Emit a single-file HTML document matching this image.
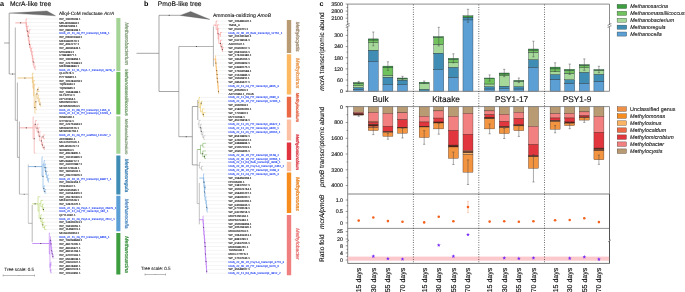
<!DOCTYPE html>
<html><head><meta charset="utf-8"><style>
html,body{margin:0;padding:0;background:#fff;width:685px;height:292px;overflow:hidden;}
svg{display:block;font-family:"Liberation Sans", sans-serif;will-change:transform;} text{text-rendering:geometricPrecision;}
</style></head><body>
<svg width="685" height="292" viewBox="0 0 685 292" font-family='"Liberation Sans", sans-serif'><defs><filter id="lb" x="-5%" y="-5%" width="110%" height="110%"><feGaussianBlur stdDeviation="0.15"/></filter></defs><text x="0.00" y="5.60" font-size="7.2" fill="#000" text-anchor="start" font-weight="bold" font-style="normal" >a</text>
<text x="10.00" y="5.50" font-size="6.68" fill="#111" text-anchor="start" font-weight="normal" font-style="normal" stroke="#111" stroke-width="0.13">McrA-like tree</text>
<line x1="4.10" y1="43.00" x2="9.20" y2="43.00" stroke="#6a6a6a" stroke-width="0.6" />
<line x1="9.20" y1="13.10" x2="9.20" y2="74.00" stroke="#6a6a6a" stroke-width="0.6" />
<line x1="9.20" y1="13.10" x2="10.50" y2="13.10" stroke="#6a6a6a" stroke-width="0.6" />
<polygon points="10.2,13.1 47,10.9 55.5,15.8" fill="#6d6d6d" stroke="#555" stroke-width="0.3"/>
<text x="59.10" y="15.30" font-size="4.73" fill="#111" text-anchor="start" font-weight="normal" font-style="normal" stroke="#111" stroke-width="0.1">Alkyl-CoM reductase <tspan font-style="italic">AcrA</tspan></text>
<line x1="9.20" y1="74.00" x2="15.30" y2="74.00" stroke="#6a6a6a" stroke-width="0.5" />
<circle cx="12.6" cy="74" r="0.5" fill="#333"/>
<line x1="15.30" y1="27.50" x2="15.30" y2="120.30" stroke="#6a6a6a" stroke-width="0.5" />
<line x1="15.30" y1="120.30" x2="17.40" y2="120.30" stroke="#6a6a6a" stroke-width="0.5" />
<line x1="17.40" y1="82.50" x2="17.40" y2="157.40" stroke="#6a6a6a" stroke-width="0.5" />
<line x1="17.40" y1="157.40" x2="19.40" y2="157.40" stroke="#6a6a6a" stroke-width="0.5" />
<line x1="19.40" y1="121.50" x2="19.40" y2="194.20" stroke="#6a6a6a" stroke-width="0.5" />
<line x1="19.40" y1="194.20" x2="28.30" y2="194.20" stroke="#888" stroke-width="0.5" />
<circle cx="24.2" cy="194.2" r="0.5" fill="#555"/>
<line x1="28.30" y1="164.40" x2="28.30" y2="223.30" stroke="#aaa" stroke-width="0.6" />
<line x1="28.30" y1="223.30" x2="32.20" y2="223.30" stroke="#888" stroke-width="0.6" />
<line x1="32.20" y1="205.00" x2="32.20" y2="242.10" stroke="#888" stroke-width="0.6" />
<line x1="26.00" y1="18.90" x2="27.45" y2="18.90" stroke="#f07a78" stroke-width="0.45" />
<line x1="26.52" y1="22.53" x2="27.27" y2="22.53" stroke="#f07a78" stroke-width="0.45" />
<line x1="27.45" y1="26.16" x2="29.04" y2="26.16" stroke="#f07a78" stroke-width="0.45" />
<line x1="29.08" y1="29.79" x2="30.71" y2="29.79" stroke="#f07a78" stroke-width="0.45" />
<line x1="29.08" y1="33.42" x2="29.63" y2="33.42" stroke="#f07a78" stroke-width="0.45" />
<line x1="29.08" y1="29.79" x2="29.08" y2="33.42" stroke="#f07a78" stroke-width="0.45" />
<line x1="28.34" y1="31.61" x2="29.08" y2="31.61" stroke="#f07a78" stroke-width="0.45" />
<line x1="28.99" y1="37.05" x2="29.66" y2="37.05" stroke="#f07a78" stroke-width="0.45" />
<line x1="29.51" y1="40.68" x2="30.36" y2="40.68" stroke="#f07a78" stroke-width="0.45" />
<line x1="30.59" y1="44.31" x2="31.30" y2="44.31" stroke="#f07a78" stroke-width="0.45" />
<line x1="31.49" y1="47.94" x2="32.73" y2="47.94" stroke="#f07a78" stroke-width="0.45" />
<line x1="32.21" y1="51.57" x2="33.34" y2="51.57" stroke="#f07a78" stroke-width="0.45" />
<line x1="32.68" y1="55.20" x2="33.24" y2="55.20" stroke="#f07a78" stroke-width="0.45" />
<line x1="33.26" y1="58.83" x2="34.55" y2="58.83" stroke="#f07a78" stroke-width="0.45" />
<line x1="34.03" y1="62.46" x2="34.89" y2="62.46" stroke="#f07a78" stroke-width="0.45" />
<line x1="34.93" y1="66.09" x2="35.95" y2="66.09" stroke="#f07a78" stroke-width="0.45" />
<line x1="34.93" y1="69.72" x2="35.77" y2="69.72" stroke="#f07a78" stroke-width="0.45" />
<line x1="34.93" y1="66.09" x2="34.93" y2="69.72" stroke="#f07a78" stroke-width="0.45" />
<line x1="34.03" y1="67.91" x2="34.93" y2="67.91" stroke="#f07a78" stroke-width="0.45" />
<line x1="34.03" y1="62.46" x2="34.03" y2="67.91" stroke="#f07a78" stroke-width="0.45" />
<line x1="33.26" y1="65.18" x2="34.03" y2="65.18" stroke="#f07a78" stroke-width="0.45" />
<line x1="33.26" y1="58.83" x2="33.26" y2="65.18" stroke="#f07a78" stroke-width="0.45" />
<line x1="32.68" y1="62.01" x2="33.26" y2="62.01" stroke="#f07a78" stroke-width="0.45" />
<rect x="32.81" y="61.56" width="0.9" height="0.9" fill="#333"/>
<line x1="32.68" y1="55.20" x2="32.68" y2="62.01" stroke="#f07a78" stroke-width="0.45" />
<line x1="32.21" y1="58.60" x2="32.68" y2="58.60" stroke="#f07a78" stroke-width="0.45" />
<line x1="32.21" y1="51.57" x2="32.21" y2="58.60" stroke="#f07a78" stroke-width="0.45" />
<line x1="31.49" y1="55.09" x2="32.21" y2="55.09" stroke="#f07a78" stroke-width="0.45" />
<line x1="31.49" y1="47.94" x2="31.49" y2="55.09" stroke="#f07a78" stroke-width="0.45" />
<line x1="30.59" y1="51.51" x2="31.49" y2="51.51" stroke="#f07a78" stroke-width="0.45" />
<line x1="30.59" y1="44.31" x2="30.59" y2="51.51" stroke="#f07a78" stroke-width="0.45" />
<line x1="29.51" y1="47.91" x2="30.59" y2="47.91" stroke="#f07a78" stroke-width="0.45" />
<line x1="29.51" y1="40.68" x2="29.51" y2="47.91" stroke="#f07a78" stroke-width="0.45" />
<line x1="28.99" y1="44.30" x2="29.51" y2="44.30" stroke="#f07a78" stroke-width="0.45" />
<rect x="29.06" y="43.85" width="0.9" height="0.9" fill="#333"/>
<line x1="28.99" y1="37.05" x2="28.99" y2="44.30" stroke="#f07a78" stroke-width="0.45" />
<line x1="28.34" y1="40.67" x2="28.99" y2="40.67" stroke="#f07a78" stroke-width="0.45" />
<line x1="28.34" y1="31.61" x2="28.34" y2="40.67" stroke="#f07a78" stroke-width="0.45" />
<line x1="27.45" y1="36.14" x2="28.34" y2="36.14" stroke="#f07a78" stroke-width="0.45" />
<rect x="27.89" y="35.69" width="0.9" height="0.9" fill="#333"/>
<line x1="27.45" y1="26.16" x2="27.45" y2="36.14" stroke="#f07a78" stroke-width="0.45" />
<line x1="26.52" y1="31.15" x2="27.45" y2="31.15" stroke="#f07a78" stroke-width="0.45" />
<rect x="27.00" y="30.70" width="0.9" height="0.9" fill="#333"/>
<line x1="26.52" y1="22.53" x2="26.52" y2="31.15" stroke="#f07a78" stroke-width="0.45" />
<line x1="26.00" y1="26.84" x2="26.52" y2="26.84" stroke="#f07a78" stroke-width="0.45" />
<line x1="26.00" y1="18.90" x2="26.00" y2="26.84" stroke="#f07a78" stroke-width="0.45" />
<line x1="15.30" y1="22.87" x2="26.00" y2="22.87" stroke="#f07a78" stroke-width="0.6" />
<circle cx="20.65" cy="22.87" r="0.55" fill="#333"/>
<line x1="32.40" y1="73.35" x2="33.98" y2="73.35" stroke="#e2a53a" stroke-width="0.45" />
<line x1="32.92" y1="76.98" x2="33.60" y2="76.98" stroke="#e2a53a" stroke-width="0.45" />
<line x1="33.63" y1="80.61" x2="35.09" y2="80.61" stroke="#e2a53a" stroke-width="0.45" />
<line x1="34.15" y1="84.24" x2="35.65" y2="84.24" stroke="#e2a53a" stroke-width="0.45" />
<line x1="37.85" y1="87.87" x2="39.33" y2="87.87" stroke="#e2a53a" stroke-width="0.45" />
<line x1="37.85" y1="91.50" x2="39.55" y2="91.50" stroke="#e2a53a" stroke-width="0.45" />
<line x1="37.85" y1="87.87" x2="37.85" y2="91.50" stroke="#e2a53a" stroke-width="0.45" />
<line x1="36.98" y1="89.69" x2="37.85" y2="89.69" stroke="#e2a53a" stroke-width="0.45" />
<rect x="37.40" y="89.23" width="0.9" height="0.9" fill="#333"/>
<line x1="38.31" y1="95.13" x2="39.32" y2="95.13" stroke="#e2a53a" stroke-width="0.45" />
<line x1="39.34" y1="98.76" x2="40.53" y2="98.76" stroke="#e2a53a" stroke-width="0.45" />
<line x1="40.00" y1="102.39" x2="40.92" y2="102.39" stroke="#e2a53a" stroke-width="0.45" />
<line x1="40.00" y1="106.02" x2="41.50" y2="106.02" stroke="#e2a53a" stroke-width="0.45" />
<line x1="40.00" y1="102.39" x2="40.00" y2="106.02" stroke="#e2a53a" stroke-width="0.45" />
<line x1="39.34" y1="104.20" x2="40.00" y2="104.20" stroke="#e2a53a" stroke-width="0.45" />
<rect x="39.55" y="103.75" width="0.9" height="0.9" fill="#333"/>
<line x1="39.34" y1="98.76" x2="39.34" y2="104.20" stroke="#e2a53a" stroke-width="0.45" />
<line x1="38.31" y1="101.48" x2="39.34" y2="101.48" stroke="#e2a53a" stroke-width="0.45" />
<line x1="38.31" y1="95.13" x2="38.31" y2="101.48" stroke="#e2a53a" stroke-width="0.45" />
<line x1="36.98" y1="98.31" x2="38.31" y2="98.31" stroke="#e2a53a" stroke-width="0.45" />
<line x1="36.98" y1="89.69" x2="36.98" y2="98.31" stroke="#e2a53a" stroke-width="0.45" />
<line x1="35.89" y1="94.00" x2="36.98" y2="94.00" stroke="#e2a53a" stroke-width="0.45" />
<rect x="36.53" y="93.55" width="0.9" height="0.9" fill="#333"/>
<line x1="35.89" y1="109.65" x2="36.97" y2="109.65" stroke="#e2a53a" stroke-width="0.45" />
<line x1="35.89" y1="94.00" x2="35.89" y2="109.65" stroke="#e2a53a" stroke-width="0.45" />
<line x1="34.90" y1="101.82" x2="35.89" y2="101.82" stroke="#e2a53a" stroke-width="0.45" />
<rect x="35.44" y="101.37" width="0.9" height="0.9" fill="#333"/>
<line x1="34.90" y1="113.28" x2="35.63" y2="113.28" stroke="#e2a53a" stroke-width="0.45" />
<line x1="34.90" y1="101.82" x2="34.90" y2="113.28" stroke="#e2a53a" stroke-width="0.45" />
<line x1="34.15" y1="107.55" x2="34.90" y2="107.55" stroke="#e2a53a" stroke-width="0.45" />
<rect x="34.45" y="107.10" width="0.9" height="0.9" fill="#333"/>
<line x1="34.15" y1="84.24" x2="34.15" y2="107.55" stroke="#e2a53a" stroke-width="0.45" />
<line x1="33.63" y1="95.90" x2="34.15" y2="95.90" stroke="#e2a53a" stroke-width="0.45" />
<line x1="33.63" y1="80.61" x2="33.63" y2="95.90" stroke="#e2a53a" stroke-width="0.45" />
<line x1="32.92" y1="88.25" x2="33.63" y2="88.25" stroke="#e2a53a" stroke-width="0.45" />
<line x1="32.92" y1="76.98" x2="32.92" y2="88.25" stroke="#e2a53a" stroke-width="0.45" />
<line x1="32.40" y1="82.62" x2="32.92" y2="82.62" stroke="#e2a53a" stroke-width="0.45" />
<line x1="32.40" y1="73.35" x2="32.40" y2="82.62" stroke="#e2a53a" stroke-width="0.45" />
<line x1="17.40" y1="77.98" x2="32.40" y2="77.98" stroke="#e2a53a" stroke-width="0.6" />
<circle cx="24.90" cy="77.98" r="0.55" fill="#333"/>
<line x1="33.10" y1="116.91" x2="33.84" y2="116.91" stroke="#f07a78" stroke-width="0.45" />
<line x1="35.30" y1="120.54" x2="37.01" y2="120.54" stroke="#f07a78" stroke-width="0.45" />
<line x1="37.08" y1="124.17" x2="39.01" y2="124.17" stroke="#f07a78" stroke-width="0.45" />
<line x1="38.33" y1="127.80" x2="40.13" y2="127.80" stroke="#f07a78" stroke-width="0.45" />
<line x1="39.77" y1="131.43" x2="40.60" y2="131.43" stroke="#f07a78" stroke-width="0.45" />
<line x1="43.07" y1="135.06" x2="45.31" y2="135.06" stroke="#f07a78" stroke-width="0.45" />
<line x1="43.07" y1="138.69" x2="45.18" y2="138.69" stroke="#f07a78" stroke-width="0.45" />
<line x1="43.07" y1="135.06" x2="43.07" y2="138.69" stroke="#f07a78" stroke-width="0.45" />
<line x1="41.49" y1="136.88" x2="43.07" y2="136.88" stroke="#f07a78" stroke-width="0.45" />
<rect x="42.62" y="136.43" width="0.9" height="0.9" fill="#333"/>
<line x1="42.60" y1="142.32" x2="43.51" y2="142.32" stroke="#f07a78" stroke-width="0.45" />
<line x1="43.99" y1="145.95" x2="44.84" y2="145.95" stroke="#f07a78" stroke-width="0.45" />
<line x1="43.99" y1="149.58" x2="44.85" y2="149.58" stroke="#f07a78" stroke-width="0.45" />
<line x1="43.99" y1="145.95" x2="43.99" y2="149.58" stroke="#f07a78" stroke-width="0.45" />
<line x1="42.60" y1="147.76" x2="43.99" y2="147.76" stroke="#f07a78" stroke-width="0.45" />
<rect x="43.54" y="147.31" width="0.9" height="0.9" fill="#333"/>
<line x1="42.60" y1="142.32" x2="42.60" y2="147.76" stroke="#f07a78" stroke-width="0.45" />
<line x1="41.49" y1="145.04" x2="42.60" y2="145.04" stroke="#f07a78" stroke-width="0.45" />
<rect x="42.15" y="144.59" width="0.9" height="0.9" fill="#333"/>
<line x1="41.49" y1="136.88" x2="41.49" y2="145.04" stroke="#f07a78" stroke-width="0.45" />
<line x1="39.77" y1="140.96" x2="41.49" y2="140.96" stroke="#f07a78" stroke-width="0.45" />
<rect x="41.04" y="140.51" width="0.9" height="0.9" fill="#333"/>
<line x1="39.77" y1="131.43" x2="39.77" y2="140.96" stroke="#f07a78" stroke-width="0.45" />
<line x1="38.33" y1="136.19" x2="39.77" y2="136.19" stroke="#f07a78" stroke-width="0.45" />
<rect x="39.32" y="135.74" width="0.9" height="0.9" fill="#333"/>
<line x1="38.33" y1="127.80" x2="38.33" y2="136.19" stroke="#f07a78" stroke-width="0.45" />
<line x1="37.08" y1="132.00" x2="38.33" y2="132.00" stroke="#f07a78" stroke-width="0.45" />
<rect x="37.88" y="131.55" width="0.9" height="0.9" fill="#333"/>
<line x1="37.08" y1="124.17" x2="37.08" y2="132.00" stroke="#f07a78" stroke-width="0.45" />
<line x1="35.30" y1="128.08" x2="37.08" y2="128.08" stroke="#f07a78" stroke-width="0.45" />
<rect x="36.63" y="127.63" width="0.9" height="0.9" fill="#333"/>
<line x1="35.30" y1="120.54" x2="35.30" y2="128.08" stroke="#f07a78" stroke-width="0.45" />
<line x1="34.23" y1="124.31" x2="35.30" y2="124.31" stroke="#f07a78" stroke-width="0.45" />
<rect x="34.85" y="123.86" width="0.9" height="0.9" fill="#333"/>
<line x1="34.23" y1="153.21" x2="35.59" y2="153.21" stroke="#f07a78" stroke-width="0.45" />
<line x1="34.23" y1="124.31" x2="34.23" y2="153.21" stroke="#f07a78" stroke-width="0.45" />
<line x1="33.10" y1="138.76" x2="34.23" y2="138.76" stroke="#f07a78" stroke-width="0.45" />
<rect x="33.78" y="138.31" width="0.9" height="0.9" fill="#333"/>
<line x1="33.10" y1="116.91" x2="33.10" y2="138.76" stroke="#f07a78" stroke-width="0.45" />
<line x1="19.40" y1="127.84" x2="33.10" y2="127.84" stroke="#f07a78" stroke-width="0.6" />
<circle cx="26.25" cy="127.84" r="0.55" fill="#333"/>
<line x1="42.00" y1="156.84" x2="42.68" y2="156.84" stroke="#4a8fd6" stroke-width="0.45" />
<line x1="44.10" y1="160.47" x2="45.17" y2="160.47" stroke="#4a8fd6" stroke-width="0.45" />
<line x1="45.10" y1="164.10" x2="46.21" y2="164.10" stroke="#4a8fd6" stroke-width="0.45" />
<line x1="45.69" y1="167.73" x2="47.32" y2="167.73" stroke="#4a8fd6" stroke-width="0.45" />
<line x1="46.42" y1="171.36" x2="47.74" y2="171.36" stroke="#4a8fd6" stroke-width="0.45" />
<line x1="47.61" y1="174.99" x2="49.01" y2="174.99" stroke="#4a8fd6" stroke-width="0.45" />
<line x1="48.28" y1="178.62" x2="49.55" y2="178.62" stroke="#4a8fd6" stroke-width="0.45" />
<line x1="48.28" y1="182.25" x2="48.90" y2="182.25" stroke="#4a8fd6" stroke-width="0.45" />
<line x1="48.28" y1="178.62" x2="48.28" y2="182.25" stroke="#4a8fd6" stroke-width="0.45" />
<line x1="47.61" y1="180.44" x2="48.28" y2="180.44" stroke="#4a8fd6" stroke-width="0.45" />
<line x1="47.61" y1="174.99" x2="47.61" y2="180.44" stroke="#4a8fd6" stroke-width="0.45" />
<line x1="46.42" y1="177.71" x2="47.61" y2="177.71" stroke="#4a8fd6" stroke-width="0.45" />
<line x1="46.42" y1="171.36" x2="46.42" y2="177.71" stroke="#4a8fd6" stroke-width="0.45" />
<line x1="45.69" y1="174.54" x2="46.42" y2="174.54" stroke="#4a8fd6" stroke-width="0.45" />
<line x1="45.69" y1="167.73" x2="45.69" y2="174.54" stroke="#4a8fd6" stroke-width="0.45" />
<line x1="45.10" y1="171.13" x2="45.69" y2="171.13" stroke="#4a8fd6" stroke-width="0.45" />
<rect x="45.24" y="170.68" width="0.9" height="0.9" fill="#333"/>
<line x1="45.10" y1="164.10" x2="45.10" y2="171.13" stroke="#4a8fd6" stroke-width="0.45" />
<line x1="44.10" y1="167.62" x2="45.10" y2="167.62" stroke="#4a8fd6" stroke-width="0.45" />
<rect x="44.65" y="167.17" width="0.9" height="0.9" fill="#333"/>
<line x1="44.10" y1="160.47" x2="44.10" y2="167.62" stroke="#4a8fd6" stroke-width="0.45" />
<line x1="43.05" y1="164.04" x2="44.10" y2="164.04" stroke="#4a8fd6" stroke-width="0.45" />
<line x1="43.90" y1="185.88" x2="45.15" y2="185.88" stroke="#4a8fd6" stroke-width="0.45" />
<line x1="44.83" y1="189.51" x2="46.27" y2="189.51" stroke="#4a8fd6" stroke-width="0.45" />
<line x1="44.83" y1="193.14" x2="46.23" y2="193.14" stroke="#4a8fd6" stroke-width="0.45" />
<line x1="44.83" y1="189.51" x2="44.83" y2="193.14" stroke="#4a8fd6" stroke-width="0.45" />
<line x1="43.90" y1="191.32" x2="44.83" y2="191.32" stroke="#4a8fd6" stroke-width="0.45" />
<rect x="44.38" y="190.88" width="0.9" height="0.9" fill="#333"/>
<line x1="43.90" y1="185.88" x2="43.90" y2="191.32" stroke="#4a8fd6" stroke-width="0.45" />
<line x1="43.05" y1="188.60" x2="43.90" y2="188.60" stroke="#4a8fd6" stroke-width="0.45" />
<rect x="43.45" y="188.15" width="0.9" height="0.9" fill="#333"/>
<line x1="43.05" y1="164.04" x2="43.05" y2="188.60" stroke="#4a8fd6" stroke-width="0.45" />
<line x1="42.00" y1="176.32" x2="43.05" y2="176.32" stroke="#4a8fd6" stroke-width="0.45" />
<rect x="42.60" y="175.87" width="0.9" height="0.9" fill="#333"/>
<line x1="42.00" y1="156.84" x2="42.00" y2="176.32" stroke="#4a8fd6" stroke-width="0.45" />
<line x1="28.30" y1="166.58" x2="42.00" y2="166.58" stroke="#4a8fd6" stroke-width="0.6" />
<circle cx="35.15" cy="166.58" r="0.55" fill="#333"/>
<line x1="38.00" y1="196.77" x2="40.33" y2="196.77" stroke="#9cc43c" stroke-width="0.45" />
<line x1="40.86" y1="200.40" x2="43.24" y2="200.40" stroke="#9cc43c" stroke-width="0.45" />
<line x1="42.61" y1="204.03" x2="43.94" y2="204.03" stroke="#9cc43c" stroke-width="0.45" />
<line x1="43.47" y1="207.66" x2="44.57" y2="207.66" stroke="#9cc43c" stroke-width="0.45" />
<line x1="43.47" y1="211.29" x2="44.52" y2="211.29" stroke="#9cc43c" stroke-width="0.45" />
<line x1="43.47" y1="207.66" x2="43.47" y2="211.29" stroke="#9cc43c" stroke-width="0.45" />
<line x1="42.61" y1="209.47" x2="43.47" y2="209.47" stroke="#9cc43c" stroke-width="0.45" />
<rect x="43.02" y="209.03" width="0.9" height="0.9" fill="#333"/>
<line x1="42.61" y1="204.03" x2="42.61" y2="209.47" stroke="#9cc43c" stroke-width="0.45" />
<line x1="40.86" y1="206.75" x2="42.61" y2="206.75" stroke="#9cc43c" stroke-width="0.45" />
<line x1="40.86" y1="200.40" x2="40.86" y2="206.75" stroke="#9cc43c" stroke-width="0.45" />
<line x1="39.14" y1="203.58" x2="40.86" y2="203.58" stroke="#9cc43c" stroke-width="0.45" />
<line x1="40.75" y1="214.92" x2="42.27" y2="214.92" stroke="#9cc43c" stroke-width="0.45" />
<line x1="42.13" y1="218.55" x2="44.19" y2="218.55" stroke="#9cc43c" stroke-width="0.45" />
<line x1="42.83" y1="222.18" x2="44.66" y2="222.18" stroke="#9cc43c" stroke-width="0.45" />
<line x1="44.52" y1="225.81" x2="46.56" y2="225.81" stroke="#9cc43c" stroke-width="0.45" />
<line x1="44.52" y1="229.44" x2="46.50" y2="229.44" stroke="#9cc43c" stroke-width="0.45" />
<line x1="44.52" y1="225.81" x2="44.52" y2="229.44" stroke="#9cc43c" stroke-width="0.45" />
<line x1="42.83" y1="227.62" x2="44.52" y2="227.62" stroke="#9cc43c" stroke-width="0.45" />
<line x1="42.83" y1="222.18" x2="42.83" y2="227.62" stroke="#9cc43c" stroke-width="0.45" />
<line x1="42.13" y1="224.90" x2="42.83" y2="224.90" stroke="#9cc43c" stroke-width="0.45" />
<rect x="42.38" y="224.45" width="0.9" height="0.9" fill="#333"/>
<line x1="42.13" y1="218.55" x2="42.13" y2="224.90" stroke="#9cc43c" stroke-width="0.45" />
<line x1="40.75" y1="221.73" x2="42.13" y2="221.73" stroke="#9cc43c" stroke-width="0.45" />
<line x1="40.75" y1="214.92" x2="40.75" y2="221.73" stroke="#9cc43c" stroke-width="0.45" />
<line x1="39.14" y1="218.32" x2="40.75" y2="218.32" stroke="#9cc43c" stroke-width="0.45" />
<rect x="40.30" y="217.87" width="0.9" height="0.9" fill="#333"/>
<line x1="39.14" y1="203.58" x2="39.14" y2="218.32" stroke="#9cc43c" stroke-width="0.45" />
<line x1="38.00" y1="210.95" x2="39.14" y2="210.95" stroke="#9cc43c" stroke-width="0.45" />
<line x1="38.00" y1="196.77" x2="38.00" y2="210.95" stroke="#9cc43c" stroke-width="0.45" />
<line x1="32.20" y1="203.86" x2="38.00" y2="203.86" stroke="#9cc43c" stroke-width="0.6" />
<circle cx="35.10" cy="203.86" r="0.55" fill="#333"/>
<line x1="49.30" y1="233.07" x2="50.08" y2="233.07" stroke="#a348f0" stroke-width="0.45" />
<line x1="50.47" y1="236.70" x2="50.95" y2="236.70" stroke="#a348f0" stroke-width="0.45" />
<line x1="50.93" y1="240.33" x2="51.28" y2="240.33" stroke="#a348f0" stroke-width="0.45" />
<line x1="51.16" y1="243.96" x2="52.02" y2="243.96" stroke="#a348f0" stroke-width="0.45" />
<line x1="51.67" y1="247.59" x2="52.26" y2="247.59" stroke="#a348f0" stroke-width="0.45" />
<line x1="52.30" y1="251.22" x2="52.83" y2="251.22" stroke="#a348f0" stroke-width="0.45" />
<line x1="52.91" y1="254.85" x2="53.68" y2="254.85" stroke="#a348f0" stroke-width="0.45" />
<line x1="52.91" y1="258.48" x2="53.30" y2="258.48" stroke="#a348f0" stroke-width="0.45" />
<line x1="52.91" y1="254.85" x2="52.91" y2="258.48" stroke="#a348f0" stroke-width="0.45" />
<line x1="52.30" y1="256.66" x2="52.91" y2="256.66" stroke="#a348f0" stroke-width="0.45" />
<rect x="52.46" y="256.21" width="0.9" height="0.9" fill="#333"/>
<line x1="52.30" y1="251.22" x2="52.30" y2="256.66" stroke="#a348f0" stroke-width="0.45" />
<line x1="51.67" y1="253.94" x2="52.30" y2="253.94" stroke="#a348f0" stroke-width="0.45" />
<rect x="51.85" y="253.49" width="0.9" height="0.9" fill="#333"/>
<line x1="51.67" y1="247.59" x2="51.67" y2="253.94" stroke="#a348f0" stroke-width="0.45" />
<line x1="51.16" y1="250.77" x2="51.67" y2="250.77" stroke="#a348f0" stroke-width="0.45" />
<rect x="51.22" y="250.32" width="0.9" height="0.9" fill="#333"/>
<line x1="51.16" y1="243.96" x2="51.16" y2="250.77" stroke="#a348f0" stroke-width="0.45" />
<line x1="50.93" y1="247.36" x2="51.16" y2="247.36" stroke="#a348f0" stroke-width="0.45" />
<line x1="50.93" y1="240.33" x2="50.93" y2="247.36" stroke="#a348f0" stroke-width="0.45" />
<line x1="50.47" y1="243.85" x2="50.93" y2="243.85" stroke="#a348f0" stroke-width="0.45" />
<rect x="50.48" y="243.40" width="0.9" height="0.9" fill="#333"/>
<line x1="50.47" y1="236.70" x2="50.47" y2="243.85" stroke="#a348f0" stroke-width="0.45" />
<line x1="49.95" y1="240.27" x2="50.47" y2="240.27" stroke="#a348f0" stroke-width="0.45" />
<rect x="50.02" y="239.82" width="0.9" height="0.9" fill="#333"/>
<line x1="50.86" y1="262.11" x2="51.34" y2="262.11" stroke="#a348f0" stroke-width="0.45" />
<line x1="50.86" y1="265.74" x2="51.41" y2="265.74" stroke="#a348f0" stroke-width="0.45" />
<line x1="50.86" y1="262.11" x2="50.86" y2="265.74" stroke="#a348f0" stroke-width="0.45" />
<line x1="50.23" y1="263.92" x2="50.86" y2="263.92" stroke="#a348f0" stroke-width="0.45" />
<line x1="50.85" y1="269.37" x2="51.38" y2="269.37" stroke="#a348f0" stroke-width="0.45" />
<line x1="50.85" y1="273.00" x2="51.69" y2="273.00" stroke="#a348f0" stroke-width="0.45" />
<line x1="50.85" y1="269.37" x2="50.85" y2="273.00" stroke="#a348f0" stroke-width="0.45" />
<line x1="50.23" y1="271.19" x2="50.85" y2="271.19" stroke="#a348f0" stroke-width="0.45" />
<line x1="50.23" y1="263.92" x2="50.23" y2="271.19" stroke="#a348f0" stroke-width="0.45" />
<line x1="49.95" y1="267.55" x2="50.23" y2="267.55" stroke="#a348f0" stroke-width="0.45" />
<line x1="49.95" y1="240.27" x2="49.95" y2="267.55" stroke="#a348f0" stroke-width="0.45" />
<line x1="49.30" y1="253.91" x2="49.95" y2="253.91" stroke="#a348f0" stroke-width="0.45" />
<line x1="49.30" y1="233.07" x2="49.30" y2="253.91" stroke="#a348f0" stroke-width="0.45" />
<line x1="32.20" y1="243.49" x2="49.30" y2="243.49" stroke="#a348f0" stroke-width="0.6" />
<circle cx="40.75" cy="243.49" r="0.55" fill="#333"/>
<line x1="27.85" y1="18.90" x2="58.50" y2="18.90" stroke="#e2e2e2" stroke-width="0.4" />
<line x1="27.67" y1="22.53" x2="58.50" y2="22.53" stroke="#e2e2e2" stroke-width="0.4" />
<line x1="29.44" y1="26.16" x2="58.50" y2="26.16" stroke="#e2e2e2" stroke-width="0.4" />
<line x1="31.11" y1="29.79" x2="58.50" y2="29.79" stroke="#e2e2e2" stroke-width="0.4" />
<line x1="30.03" y1="33.42" x2="58.50" y2="33.42" stroke="#e2e2e2" stroke-width="0.4" />
<line x1="30.06" y1="37.05" x2="58.50" y2="37.05" stroke="#e2e2e2" stroke-width="0.4" />
<line x1="30.76" y1="40.68" x2="58.50" y2="40.68" stroke="#e2e2e2" stroke-width="0.4" />
<line x1="31.70" y1="44.31" x2="58.50" y2="44.31" stroke="#e2e2e2" stroke-width="0.4" />
<line x1="33.13" y1="47.94" x2="58.50" y2="47.94" stroke="#e2e2e2" stroke-width="0.4" />
<line x1="33.74" y1="51.57" x2="58.50" y2="51.57" stroke="#e2e2e2" stroke-width="0.4" />
<line x1="33.64" y1="55.20" x2="58.50" y2="55.20" stroke="#e2e2e2" stroke-width="0.4" />
<line x1="34.95" y1="58.83" x2="58.50" y2="58.83" stroke="#e2e2e2" stroke-width="0.4" />
<line x1="35.29" y1="62.46" x2="58.50" y2="62.46" stroke="#e2e2e2" stroke-width="0.4" />
<line x1="36.35" y1="66.09" x2="58.50" y2="66.09" stroke="#e2e2e2" stroke-width="0.4" />
<line x1="36.17" y1="69.72" x2="58.50" y2="69.72" stroke="#e2e2e2" stroke-width="0.4" />
<line x1="34.38" y1="73.35" x2="58.50" y2="73.35" stroke="#e2e2e2" stroke-width="0.4" />
<line x1="34.00" y1="76.98" x2="58.50" y2="76.98" stroke="#e2e2e2" stroke-width="0.4" />
<line x1="35.49" y1="80.61" x2="58.50" y2="80.61" stroke="#e2e2e2" stroke-width="0.4" />
<line x1="36.05" y1="84.24" x2="58.50" y2="84.24" stroke="#e2e2e2" stroke-width="0.4" />
<line x1="39.73" y1="87.87" x2="58.50" y2="87.87" stroke="#e2e2e2" stroke-width="0.4" />
<line x1="39.95" y1="91.50" x2="58.50" y2="91.50" stroke="#e2e2e2" stroke-width="0.4" />
<line x1="39.72" y1="95.13" x2="58.50" y2="95.13" stroke="#e2e2e2" stroke-width="0.4" />
<line x1="40.93" y1="98.76" x2="58.50" y2="98.76" stroke="#e2e2e2" stroke-width="0.4" />
<line x1="41.32" y1="102.39" x2="58.50" y2="102.39" stroke="#e2e2e2" stroke-width="0.4" />
<line x1="41.90" y1="106.02" x2="58.50" y2="106.02" stroke="#e2e2e2" stroke-width="0.4" />
<line x1="37.37" y1="109.65" x2="58.50" y2="109.65" stroke="#e2e2e2" stroke-width="0.4" />
<line x1="36.03" y1="113.28" x2="58.50" y2="113.28" stroke="#e2e2e2" stroke-width="0.4" />
<line x1="34.24" y1="116.91" x2="58.50" y2="116.91" stroke="#e2e2e2" stroke-width="0.4" />
<line x1="37.41" y1="120.54" x2="58.50" y2="120.54" stroke="#e2e2e2" stroke-width="0.4" />
<line x1="39.41" y1="124.17" x2="58.50" y2="124.17" stroke="#e2e2e2" stroke-width="0.4" />
<line x1="40.53" y1="127.80" x2="58.50" y2="127.80" stroke="#e2e2e2" stroke-width="0.4" />
<line x1="41.00" y1="131.43" x2="58.50" y2="131.43" stroke="#e2e2e2" stroke-width="0.4" />
<line x1="45.71" y1="135.06" x2="58.50" y2="135.06" stroke="#e2e2e2" stroke-width="0.4" />
<line x1="45.58" y1="138.69" x2="58.50" y2="138.69" stroke="#e2e2e2" stroke-width="0.4" />
<line x1="43.91" y1="142.32" x2="58.50" y2="142.32" stroke="#e2e2e2" stroke-width="0.4" />
<line x1="45.24" y1="145.95" x2="58.50" y2="145.95" stroke="#e2e2e2" stroke-width="0.4" />
<line x1="45.25" y1="149.58" x2="58.50" y2="149.58" stroke="#e2e2e2" stroke-width="0.4" />
<line x1="35.99" y1="153.21" x2="58.50" y2="153.21" stroke="#e2e2e2" stroke-width="0.4" />
<line x1="43.08" y1="156.84" x2="58.50" y2="156.84" stroke="#e2e2e2" stroke-width="0.4" />
<line x1="45.57" y1="160.47" x2="58.50" y2="160.47" stroke="#e2e2e2" stroke-width="0.4" />
<line x1="46.61" y1="164.10" x2="58.50" y2="164.10" stroke="#e2e2e2" stroke-width="0.4" />
<line x1="47.72" y1="167.73" x2="58.50" y2="167.73" stroke="#e2e2e2" stroke-width="0.4" />
<line x1="48.14" y1="171.36" x2="58.50" y2="171.36" stroke="#e2e2e2" stroke-width="0.4" />
<line x1="49.41" y1="174.99" x2="58.50" y2="174.99" stroke="#e2e2e2" stroke-width="0.4" />
<line x1="49.95" y1="178.62" x2="58.50" y2="178.62" stroke="#e2e2e2" stroke-width="0.4" />
<line x1="49.30" y1="182.25" x2="58.50" y2="182.25" stroke="#e2e2e2" stroke-width="0.4" />
<line x1="45.55" y1="185.88" x2="58.50" y2="185.88" stroke="#e2e2e2" stroke-width="0.4" />
<line x1="46.67" y1="189.51" x2="58.50" y2="189.51" stroke="#e2e2e2" stroke-width="0.4" />
<line x1="46.63" y1="193.14" x2="58.50" y2="193.14" stroke="#e2e2e2" stroke-width="0.4" />
<line x1="40.73" y1="196.77" x2="58.50" y2="196.77" stroke="#e2e2e2" stroke-width="0.4" />
<line x1="43.64" y1="200.40" x2="58.50" y2="200.40" stroke="#e2e2e2" stroke-width="0.4" />
<line x1="44.34" y1="204.03" x2="58.50" y2="204.03" stroke="#e2e2e2" stroke-width="0.4" />
<line x1="44.97" y1="207.66" x2="58.50" y2="207.66" stroke="#e2e2e2" stroke-width="0.4" />
<line x1="44.92" y1="211.29" x2="58.50" y2="211.29" stroke="#e2e2e2" stroke-width="0.4" />
<line x1="42.67" y1="214.92" x2="58.50" y2="214.92" stroke="#e2e2e2" stroke-width="0.4" />
<line x1="44.59" y1="218.55" x2="58.50" y2="218.55" stroke="#e2e2e2" stroke-width="0.4" />
<line x1="45.06" y1="222.18" x2="58.50" y2="222.18" stroke="#e2e2e2" stroke-width="0.4" />
<line x1="46.96" y1="225.81" x2="58.50" y2="225.81" stroke="#e2e2e2" stroke-width="0.4" />
<line x1="46.90" y1="229.44" x2="58.50" y2="229.44" stroke="#e2e2e2" stroke-width="0.4" />
<line x1="50.48" y1="233.07" x2="58.50" y2="233.07" stroke="#e2e2e2" stroke-width="0.4" />
<line x1="51.35" y1="236.70" x2="58.50" y2="236.70" stroke="#e2e2e2" stroke-width="0.4" />
<line x1="51.68" y1="240.33" x2="58.50" y2="240.33" stroke="#e2e2e2" stroke-width="0.4" />
<line x1="52.42" y1="243.96" x2="58.50" y2="243.96" stroke="#e2e2e2" stroke-width="0.4" />
<line x1="52.66" y1="247.59" x2="58.50" y2="247.59" stroke="#e2e2e2" stroke-width="0.4" />
<line x1="53.23" y1="251.22" x2="58.50" y2="251.22" stroke="#e2e2e2" stroke-width="0.4" />
<line x1="54.08" y1="254.85" x2="58.50" y2="254.85" stroke="#e2e2e2" stroke-width="0.4" />
<line x1="53.70" y1="258.48" x2="58.50" y2="258.48" stroke="#e2e2e2" stroke-width="0.4" />
<line x1="51.74" y1="262.11" x2="58.50" y2="262.11" stroke="#e2e2e2" stroke-width="0.4" />
<line x1="51.81" y1="265.74" x2="58.50" y2="265.74" stroke="#e2e2e2" stroke-width="0.4" />
<line x1="51.78" y1="269.37" x2="58.50" y2="269.37" stroke="#e2e2e2" stroke-width="0.4" />
<line x1="52.09" y1="273.00" x2="58.50" y2="273.00" stroke="#e2e2e2" stroke-width="0.4" />
<g filter="url(#lb)">
<text x="59.2" y="19.95" font-size="2.88" fill="#111" stroke="#111" stroke-width="0.09">WP_10605508.1</text>
<text x="59.2" y="23.58" font-size="2.88" fill="#111" stroke="#111" stroke-width="0.09">MBU4034898.1</text>
<text x="59.2" y="27.21" font-size="2.88" fill="#111" stroke="#111" stroke-width="0.09">MBS879808.1</text>
<text x="59.2" y="30.84" font-size="2.88" fill="#111" stroke="#111" stroke-width="0.09">WP_08608308.1</text>
<text x="59.2" y="34.47" font-size="2.88" fill="#1a3cf0" stroke="#1a3cf0" stroke-width="0.09">RGS_22_11_24_HT_transcript_5108_1</text>
<text x="59.2" y="38.10" font-size="2.88" fill="#111" stroke="#111" stroke-width="0.09">WP_005876398.1</text>
<text x="59.2" y="41.73" font-size="2.88" fill="#111" stroke="#111" stroke-width="0.09">MXX9890570.1</text>
<text x="59.2" y="45.36" font-size="2.88" fill="#111" stroke="#111" stroke-width="0.09">WP_4032277.1</text>
<text x="59.2" y="48.99" font-size="2.88" fill="#111" stroke="#111" stroke-width="0.09">WP_48181828.1</text>
<text x="59.2" y="52.62" font-size="2.88" fill="#111" stroke="#111" stroke-width="0.09">MTR8083.1</text>
<text x="59.2" y="56.25" font-size="2.88" fill="#111" stroke="#111" stroke-width="0.09">UT8838077.1</text>
<text x="59.2" y="59.88" font-size="2.88" fill="#111" stroke="#111" stroke-width="0.09">WP_10608858.1</text>
<text x="59.2" y="63.51" font-size="2.88" fill="#111" stroke="#111" stroke-width="0.09">WP_223703483.1</text>
<text x="59.2" y="67.14" font-size="2.88" fill="#111" stroke="#111" stroke-width="0.09">MXX0884889.1</text>
<text x="59.2" y="70.77" font-size="2.88" fill="#1a3cf0" stroke="#1a3cf0" stroke-width="0.09">RGS_22_12_11_Psy1-7_transcript_3978_2</text>
<text x="59.2" y="74.40" font-size="2.88" fill="#111" stroke="#111" stroke-width="0.09">QLA7674.1</text>
<text x="59.2" y="78.03" font-size="2.88" fill="#111" stroke="#111" stroke-width="0.09">H77786801.1</text>
<text x="59.2" y="81.66" font-size="2.88" fill="#111" stroke="#111" stroke-width="0.09">WP_101283478.1</text>
<text x="59.2" y="85.29" font-size="2.88" fill="#111" stroke="#111" stroke-width="0.09">TQ093949.1</text>
<text x="59.2" y="88.92" font-size="2.88" fill="#111" stroke="#111" stroke-width="0.09">TQ096845.1</text>
<text x="59.2" y="92.55" font-size="2.88" fill="#111" stroke="#111" stroke-width="0.09">WP_10448388.1</text>
<text x="59.2" y="96.18" font-size="2.88" fill="#111" stroke="#111" stroke-width="0.09">NLT37012.1</text>
<text x="59.2" y="99.81" font-size="2.88" fill="#111" stroke="#111" stroke-width="0.09">OPY47864.1</text>
<text x="59.2" y="103.44" font-size="2.88" fill="#111" stroke="#111" stroke-width="0.09">MBI0500228.1</text>
<text x="59.2" y="107.07" font-size="2.88" fill="#111" stroke="#111" stroke-width="0.09">MDW5555053.1</text>
<text x="59.2" y="110.70" font-size="2.88" fill="#1a3cf0" stroke="#1a3cf0" stroke-width="0.09">RGS_22_11_08_HT_transcript_1956_4</text>
<text x="59.2" y="114.33" font-size="2.88" fill="#1a3cf0" stroke="#1a3cf0" stroke-width="0.09">RGS_22_12_11_HT_transcript_10209_1</text>
<text x="59.2" y="117.96" font-size="2.88" fill="#111" stroke="#111" stroke-width="0.09">WN87960.1</text>
<text x="59.2" y="121.59" font-size="2.88" fill="#111" stroke="#111" stroke-width="0.09">NTY0919.1</text>
<text x="59.2" y="125.22" font-size="2.88" fill="#111" stroke="#111" stroke-width="0.09">WP_223763443.1</text>
<text x="59.2" y="128.85" font-size="2.88" fill="#111" stroke="#111" stroke-width="0.09">MBS5870576.1</text>
<text x="59.2" y="132.48" font-size="2.88" fill="#111" stroke="#111" stroke-width="0.09">MDW235704.1</text>
<text x="59.2" y="136.11" font-size="2.88" fill="#1a3cf0" stroke="#1a3cf0" stroke-width="0.09">RGS_22_11_24_HT_scaffold_131297_1</text>
<text x="59.2" y="139.74" font-size="2.88" fill="#111" stroke="#111" stroke-width="0.09">AKK08869.1</text>
<text x="59.2" y="143.37" font-size="2.88" fill="#111" stroke="#111" stroke-width="0.09">MCC7607626.1</text>
<text x="59.2" y="147.00" font-size="2.88" fill="#111" stroke="#111" stroke-width="0.09">MBU4535797.1</text>
<text x="59.2" y="150.63" font-size="2.88" fill="#111" stroke="#111" stroke-width="0.09">SUB8059.1</text>
<text x="59.2" y="154.26" font-size="2.88" fill="#111" stroke="#111" stroke-width="0.09">WP_40928805.1</text>
<text x="59.2" y="157.89" font-size="2.88" fill="#111" stroke="#111" stroke-width="0.09">WP_102303865.1</text>
<text x="59.2" y="161.52" font-size="2.88" fill="#111" stroke="#111" stroke-width="0.09">MBV4448272.1</text>
<text x="59.2" y="165.15" font-size="2.88" fill="#111" stroke="#111" stroke-width="0.09">WP_292070887.1</text>
<text x="59.2" y="168.78" font-size="2.88" fill="#111" stroke="#111" stroke-width="0.09">MDO1723528.1</text>
<text x="59.2" y="172.41" font-size="2.88" fill="#111" stroke="#111" stroke-width="0.09">WP_18159531.1</text>
<text x="59.2" y="176.04" font-size="2.88" fill="#111" stroke="#111" stroke-width="0.09">WP_209276875.1</text>
<text x="59.2" y="179.67" font-size="2.88" fill="#1a3cf0" stroke="#1a3cf0" stroke-width="0.09">RGS_22_10_11_HT_transcript_89877_1</text>
<text x="59.2" y="183.30" font-size="2.88" fill="#111" stroke="#111" stroke-width="0.09">WP_20999318.1</text>
<text x="59.2" y="186.93" font-size="2.88" fill="#111" stroke="#111" stroke-width="0.09">PKG35997.1</text>
<text x="59.2" y="190.56" font-size="2.88" fill="#111" stroke="#111" stroke-width="0.09">MBV9309586.1</text>
<text x="59.2" y="194.19" font-size="2.88" fill="#111" stroke="#111" stroke-width="0.09">WP_292644306.1</text>
<text x="59.2" y="197.82" font-size="2.88" fill="#111" stroke="#111" stroke-width="0.09">WP_259740356.1</text>
<text x="59.2" y="201.45" font-size="2.88" fill="#111" stroke="#111" stroke-width="0.09">MBX3476528.1</text>
<text x="59.2" y="205.08" font-size="2.88" fill="#111" stroke="#111" stroke-width="0.09">WP_12826270.1</text>
<text x="59.2" y="208.71" font-size="2.88" fill="#1a3cf0" stroke="#1a3cf0" stroke-width="0.09">RGS_22_11_24_Psy1-7_transcript_25479_1</text>
<text x="59.2" y="212.34" font-size="2.88" fill="#1a3cf0" stroke="#1a3cf0" stroke-width="0.09">RGS_22_12_24_HT_transcript_140_1</text>
<text x="59.2" y="215.97" font-size="2.88" fill="#111" stroke="#111" stroke-width="0.09">QFY12987.1</text>
<text x="59.2" y="219.60" font-size="2.88" fill="#1a3cf0" stroke="#1a3cf0" stroke-width="0.09">RGS_22_11_24_Psy1-9_transcript_2512_1</text>
<text x="59.2" y="223.23" font-size="2.88" fill="#111" stroke="#111" stroke-width="0.09">WP_128906263.1</text>
<text x="59.2" y="226.86" font-size="2.88" fill="#111" stroke="#111" stroke-width="0.09">WP_14433559.1</text>
<text x="59.2" y="230.49" font-size="2.88" fill="#111" stroke="#111" stroke-width="0.09">WP_11458079.1</text>
<text x="59.2" y="234.12" font-size="2.88" fill="#111" stroke="#111" stroke-width="0.09">MDA9904004.1</text>
<text x="59.2" y="237.75" font-size="2.88" fill="#1a3cf0" stroke="#1a3cf0" stroke-width="0.09">RGS_22_11_24_HT_transcript_8856_1</text>
<text x="59.2" y="241.38" font-size="2.88" fill="#111" stroke="#111" stroke-width="0.09">WP_709098848.1</text>
<text x="59.2" y="245.01" font-size="2.88" fill="#111" stroke="#111" stroke-width="0.09">WP_48173205.1</text>
<text x="59.2" y="248.64" font-size="2.88" fill="#111" stroke="#111" stroke-width="0.09">WP_48141827.1</text>
<text x="59.2" y="252.27" font-size="2.88" fill="#111" stroke="#111" stroke-width="0.09">WP_48131268.1</text>
<text x="59.2" y="255.90" font-size="2.88" fill="#111" stroke="#111" stroke-width="0.09">WP_32207943.1</text>
<text x="59.2" y="259.53" font-size="2.88" fill="#111" stroke="#111" stroke-width="0.09">WP_95648538.1</text>
<text x="59.2" y="263.16" font-size="2.88" fill="#111" stroke="#111" stroke-width="0.09">WP_20962697.1</text>
<text x="59.2" y="266.79" font-size="2.88" fill="#111" stroke="#111" stroke-width="0.09">WP_48124840.1</text>
<text x="59.2" y="270.42" font-size="2.88" fill="#111" stroke="#111" stroke-width="0.09">WP_48667574.1</text>
<text x="59.2" y="274.05" font-size="2.88" fill="#111" stroke="#111" stroke-width="0.09">WP_10192866.1</text>
</g>
<rect x="116.30" y="18.00" width="4.10" height="53.25" fill="#a3d395" />
<rect x="116.30" y="72.00" width="4.10" height="42.50" fill="#6fbf5c" />
<rect x="116.30" y="116.25" width="4.10" height="37.50" fill="#a3d395" />
<rect x="116.30" y="155.50" width="4.10" height="39.00" fill="#3f8db5" />
<rect x="116.30" y="195.75" width="4.10" height="35.50" fill="#5b9fd4" />
<rect x="116.30" y="233.00" width="4.10" height="41.50" fill="#3d9e40" />
<text x="125.40" y="43.75" font-size="5.13" fill="#7d9a74" text-anchor="middle" font-weight="normal" font-style="italic" transform="rotate(90 125.40 43.75)" stroke="#7d9a74" stroke-width="0.2">Methanobacterium</text>
<text x="125.40" y="92.40" font-size="4.57" fill="#62945a" text-anchor="middle" font-weight="normal" font-style="italic" transform="rotate(90 125.40 92.40)" stroke="#62945a" stroke-width="0.2">Methanomassiliicoccus</text>
<text x="125.40" y="136.50" font-size="4.29" fill="#7d9a74" text-anchor="middle" font-weight="normal" font-style="italic" transform="rotate(90 125.40 136.50)" stroke="#7d9a74" stroke-width="0.2">Methanobacterium</text>
<text x="125.40" y="175.50" font-size="5.0" fill="#2f78b0" text-anchor="middle" font-weight="normal" font-style="italic" transform="rotate(90 125.40 175.50)" stroke="#2f78b0" stroke-width="0.2">Methanoregula</text>
<text x="125.40" y="213.70" font-size="5.0" fill="#4a86c0" text-anchor="middle" font-weight="normal" font-style="italic" transform="rotate(90 125.40 213.70)" stroke="#4a86c0" stroke-width="0.2">Methanocella</text>
<text x="125.40" y="254.60" font-size="5.15" fill="#2f8a34" text-anchor="middle" font-weight="normal" font-style="italic" transform="rotate(90 125.40 254.60)" stroke="#2f8a34" stroke-width="0.2">Methanosarcina</text>
<text x="4.30" y="270.60" font-size="4.5" fill="#333" text-anchor="start" font-weight="normal" font-style="normal" stroke="#333" stroke-width="0.1">Tree scale: 0.5</text>
<line x1="3.20" y1="275.50" x2="34.50" y2="275.50" stroke="#777" stroke-width="0.5" />
<line x1="3.20" y1="274.50" x2="3.20" y2="276.50" stroke="#777" stroke-width="0.5" />
<line x1="18.80" y1="275.00" x2="18.80" y2="276.00" stroke="#777" stroke-width="0.5" />
<line x1="34.50" y1="274.50" x2="34.50" y2="276.50" stroke="#777" stroke-width="0.5" />
<text x="144.00" y="5.60" font-size="7.2" fill="#000" text-anchor="start" font-weight="bold" font-style="normal" >b</text>
<text x="157.80" y="5.50" font-size="6.68" fill="#111" text-anchor="start" font-weight="normal" font-style="normal" stroke="#111" stroke-width="0.13">PmoB-like tree</text>
<line x1="136.50" y1="53.30" x2="159.00" y2="53.30" stroke="#6a6a6a" stroke-width="0.6" />
<line x1="159.00" y1="15.30" x2="159.00" y2="91.50" stroke="#6a6a6a" stroke-width="0.6" />
<line x1="159.00" y1="15.30" x2="180.20" y2="15.30" stroke="#6a6a6a" stroke-width="0.6" />
<circle cx="169.2" cy="15.3" r="0.55" fill="#333"/>
<polygon points="180,15.4 190.7,11.5 209.8,19.4" fill="#6d6d6d" stroke="#555" stroke-width="0.3"/>
<text x="212.90" y="16.60" font-size="5.08" fill="#111" text-anchor="start" font-weight="normal" font-style="normal" stroke="#111" stroke-width="0.1">Ammonia-oxidizing <tspan font-style="italic">AmoB</tspan></text>
<line x1="159.00" y1="91.50" x2="178.80" y2="91.50" stroke="#6a6a6a" stroke-width="0.6" />
<line x1="178.80" y1="46.50" x2="178.80" y2="136.70" stroke="#6a6a6a" stroke-width="0.5" />
<line x1="178.80" y1="46.50" x2="213.40" y2="46.50" stroke="#6a6a6a" stroke-width="0.5" />
<circle cx="196.5" cy="46.5" r="0.55" fill="#333"/>
<line x1="178.80" y1="136.70" x2="192.30" y2="136.70" stroke="#6a6a6a" stroke-width="0.6" />
<circle cx="186.2" cy="136.7" r="0.55" fill="#333"/>
<line x1="192.30" y1="106.50" x2="192.30" y2="164.90" stroke="#6a6a6a" stroke-width="0.6" />
<line x1="192.30" y1="106.50" x2="197.80" y2="106.50" stroke="#6a6a6a" stroke-width="0.6" />
<line x1="192.30" y1="164.90" x2="197.20" y2="164.90" stroke="#6a6a6a" stroke-width="0.6" />
<line x1="213.40" y1="26.40" x2="213.40" y2="66.60" stroke="#6a6a6a" stroke-width="0.5" />
<line x1="197.80" y1="100.00" x2="197.80" y2="120.00" stroke="#777" stroke-width="0.6" />
<line x1="197.20" y1="150.00" x2="197.20" y2="203.60" stroke="#999" stroke-width="0.6" />
<line x1="197.20" y1="203.60" x2="199.30" y2="203.60" stroke="#999" stroke-width="0.6" />
<line x1="199.30" y1="182.90" x2="199.30" y2="224.30" stroke="#999" stroke-width="0.6" />
<line x1="216.10" y1="21.00" x2="217.63" y2="21.00" stroke="#f06a6a" stroke-width="0.45" />
<line x1="217.42" y1="24.82" x2="219.41" y2="24.82" stroke="#f06a6a" stroke-width="0.45" />
<line x1="218.11" y1="28.64" x2="219.30" y2="28.64" stroke="#f06a6a" stroke-width="0.45" />
<line x1="220.32" y1="32.47" x2="222.15" y2="32.47" stroke="#f06a6a" stroke-width="0.45" />
<line x1="220.32" y1="36.29" x2="221.09" y2="36.29" stroke="#f06a6a" stroke-width="0.45" />
<line x1="220.32" y1="32.47" x2="220.32" y2="36.29" stroke="#f06a6a" stroke-width="0.45" />
<line x1="218.80" y1="34.38" x2="220.32" y2="34.38" stroke="#f06a6a" stroke-width="0.45" />
<line x1="220.50" y1="40.11" x2="222.27" y2="40.11" stroke="#f06a6a" stroke-width="0.45" />
<line x1="221.80" y1="43.93" x2="222.76" y2="43.93" stroke="#f06a6a" stroke-width="0.45" />
<line x1="222.40" y1="47.75" x2="223.96" y2="47.75" stroke="#f06a6a" stroke-width="0.45" />
<line x1="222.40" y1="51.58" x2="223.20" y2="51.58" stroke="#f06a6a" stroke-width="0.45" />
<line x1="222.40" y1="47.75" x2="222.40" y2="51.58" stroke="#f06a6a" stroke-width="0.45" />
<line x1="221.80" y1="49.67" x2="222.40" y2="49.67" stroke="#f06a6a" stroke-width="0.45" />
<rect x="221.95" y="49.22" width="0.9" height="0.9" fill="#333"/>
<line x1="221.80" y1="43.93" x2="221.80" y2="49.67" stroke="#f06a6a" stroke-width="0.45" />
<line x1="220.50" y1="46.80" x2="221.80" y2="46.80" stroke="#f06a6a" stroke-width="0.45" />
<rect x="221.35" y="46.35" width="0.9" height="0.9" fill="#333"/>
<line x1="220.50" y1="40.11" x2="220.50" y2="46.80" stroke="#f06a6a" stroke-width="0.45" />
<line x1="218.80" y1="43.45" x2="220.50" y2="43.45" stroke="#f06a6a" stroke-width="0.45" />
<rect x="220.05" y="43.00" width="0.9" height="0.9" fill="#333"/>
<line x1="218.80" y1="34.38" x2="218.80" y2="43.45" stroke="#f06a6a" stroke-width="0.45" />
<line x1="218.11" y1="38.92" x2="218.80" y2="38.92" stroke="#f06a6a" stroke-width="0.45" />
<line x1="218.11" y1="28.64" x2="218.11" y2="38.92" stroke="#f06a6a" stroke-width="0.45" />
<line x1="217.42" y1="33.78" x2="218.11" y2="33.78" stroke="#f06a6a" stroke-width="0.45" />
<rect x="217.66" y="33.33" width="0.9" height="0.9" fill="#333"/>
<line x1="217.42" y1="24.82" x2="217.42" y2="33.78" stroke="#f06a6a" stroke-width="0.45" />
<line x1="216.10" y1="29.30" x2="217.42" y2="29.30" stroke="#f06a6a" stroke-width="0.45" />
<line x1="216.10" y1="21.00" x2="216.10" y2="29.30" stroke="#f06a6a" stroke-width="0.45" />
<line x1="213.40" y1="25.15" x2="216.10" y2="25.15" stroke="#f06a6a" stroke-width="0.6" />
<line x1="215.60" y1="55.40" x2="215.87" y2="55.40" stroke="#f5a030" stroke-width="0.45" />
<line x1="215.83" y1="59.22" x2="216.04" y2="59.22" stroke="#f5a030" stroke-width="0.45" />
<line x1="216.21" y1="63.04" x2="216.55" y2="63.04" stroke="#f5a030" stroke-width="0.45" />
<line x1="216.61" y1="66.86" x2="216.94" y2="66.86" stroke="#f5a030" stroke-width="0.45" />
<line x1="217.04" y1="70.69" x2="217.56" y2="70.69" stroke="#f5a030" stroke-width="0.45" />
<line x1="217.18" y1="74.51" x2="217.45" y2="74.51" stroke="#f5a030" stroke-width="0.45" />
<line x1="217.60" y1="78.33" x2="217.97" y2="78.33" stroke="#f5a030" stroke-width="0.45" />
<line x1="218.04" y1="82.15" x2="218.38" y2="82.15" stroke="#f5a030" stroke-width="0.45" />
<line x1="218.21" y1="85.97" x2="218.65" y2="85.97" stroke="#f5a030" stroke-width="0.45" />
<line x1="218.59" y1="89.80" x2="218.88" y2="89.80" stroke="#f5a030" stroke-width="0.45" />
<line x1="218.59" y1="93.62" x2="218.80" y2="93.62" stroke="#f5a030" stroke-width="0.45" />
<line x1="218.59" y1="89.80" x2="218.59" y2="93.62" stroke="#f5a030" stroke-width="0.45" />
<line x1="218.21" y1="91.71" x2="218.59" y2="91.71" stroke="#f5a030" stroke-width="0.45" />
<rect x="218.14" y="91.26" width="0.9" height="0.9" fill="#333"/>
<line x1="218.21" y1="85.97" x2="218.21" y2="91.71" stroke="#f5a030" stroke-width="0.45" />
<line x1="218.04" y1="88.84" x2="218.21" y2="88.84" stroke="#f5a030" stroke-width="0.45" />
<line x1="218.04" y1="82.15" x2="218.04" y2="88.84" stroke="#f5a030" stroke-width="0.45" />
<line x1="217.60" y1="85.50" x2="218.04" y2="85.50" stroke="#f5a030" stroke-width="0.45" />
<line x1="217.60" y1="78.33" x2="217.60" y2="85.50" stroke="#f5a030" stroke-width="0.45" />
<line x1="217.18" y1="81.91" x2="217.60" y2="81.91" stroke="#f5a030" stroke-width="0.45" />
<rect x="217.15" y="81.46" width="0.9" height="0.9" fill="#333"/>
<line x1="217.18" y1="74.51" x2="217.18" y2="81.91" stroke="#f5a030" stroke-width="0.45" />
<line x1="217.04" y1="78.21" x2="217.18" y2="78.21" stroke="#f5a030" stroke-width="0.45" />
<rect x="216.73" y="77.76" width="0.9" height="0.9" fill="#333"/>
<line x1="217.04" y1="70.69" x2="217.04" y2="78.21" stroke="#f5a030" stroke-width="0.45" />
<line x1="216.61" y1="74.45" x2="217.04" y2="74.45" stroke="#f5a030" stroke-width="0.45" />
<rect x="216.59" y="74.00" width="0.9" height="0.9" fill="#333"/>
<line x1="216.61" y1="66.86" x2="216.61" y2="74.45" stroke="#f5a030" stroke-width="0.45" />
<line x1="216.21" y1="70.66" x2="216.61" y2="70.66" stroke="#f5a030" stroke-width="0.45" />
<rect x="216.16" y="70.21" width="0.9" height="0.9" fill="#333"/>
<line x1="216.21" y1="63.04" x2="216.21" y2="70.66" stroke="#f5a030" stroke-width="0.45" />
<line x1="215.83" y1="66.85" x2="216.21" y2="66.85" stroke="#f5a030" stroke-width="0.45" />
<line x1="215.83" y1="59.22" x2="215.83" y2="66.85" stroke="#f5a030" stroke-width="0.45" />
<line x1="215.60" y1="63.03" x2="215.83" y2="63.03" stroke="#f5a030" stroke-width="0.45" />
<rect x="215.38" y="62.58" width="0.9" height="0.9" fill="#333"/>
<line x1="215.60" y1="55.40" x2="215.60" y2="63.03" stroke="#f5a030" stroke-width="0.45" />
<line x1="213.40" y1="59.22" x2="215.60" y2="59.22" stroke="#f5a030" stroke-width="0.6" />
<line x1="199.00" y1="97.44" x2="200.00" y2="97.44" stroke="#e0b020" stroke-width="0.45" />
<line x1="201.24" y1="101.26" x2="202.75" y2="101.26" stroke="#e0b020" stroke-width="0.45" />
<line x1="201.24" y1="105.08" x2="202.38" y2="105.08" stroke="#e0b020" stroke-width="0.45" />
<line x1="201.24" y1="101.26" x2="201.24" y2="105.08" stroke="#e0b020" stroke-width="0.45" />
<line x1="200.46" y1="103.17" x2="201.24" y2="103.17" stroke="#e0b020" stroke-width="0.45" />
<rect x="200.79" y="102.72" width="0.9" height="0.9" fill="#333"/>
<line x1="202.33" y1="108.91" x2="204.52" y2="108.91" stroke="#e0b020" stroke-width="0.45" />
<line x1="203.35" y1="112.73" x2="205.69" y2="112.73" stroke="#e0b020" stroke-width="0.45" />
<line x1="203.35" y1="116.55" x2="204.49" y2="116.55" stroke="#e0b020" stroke-width="0.45" />
<line x1="203.35" y1="112.73" x2="203.35" y2="116.55" stroke="#e0b020" stroke-width="0.45" />
<line x1="202.33" y1="114.64" x2="203.35" y2="114.64" stroke="#e0b020" stroke-width="0.45" />
<rect x="202.90" y="114.19" width="0.9" height="0.9" fill="#333"/>
<line x1="202.33" y1="108.91" x2="202.33" y2="114.64" stroke="#e0b020" stroke-width="0.45" />
<line x1="200.46" y1="111.77" x2="202.33" y2="111.77" stroke="#e0b020" stroke-width="0.45" />
<line x1="200.46" y1="103.17" x2="200.46" y2="111.77" stroke="#e0b020" stroke-width="0.45" />
<line x1="199.00" y1="107.47" x2="200.46" y2="107.47" stroke="#e0b020" stroke-width="0.45" />
<line x1="199.00" y1="97.44" x2="199.00" y2="107.47" stroke="#e0b020" stroke-width="0.45" />
<line x1="197.80" y1="102.46" x2="199.00" y2="102.46" stroke="#e0b020" stroke-width="0.6" />
<line x1="199.00" y1="120.37" x2="200.79" y2="120.37" stroke="#9a9a9a" stroke-width="0.45" />
<line x1="200.64" y1="124.19" x2="202.04" y2="124.19" stroke="#9a9a9a" stroke-width="0.45" />
<line x1="201.34" y1="128.02" x2="202.44" y2="128.02" stroke="#9a9a9a" stroke-width="0.45" />
<line x1="202.74" y1="131.84" x2="203.51" y2="131.84" stroke="#9a9a9a" stroke-width="0.45" />
<line x1="203.81" y1="135.66" x2="205.62" y2="135.66" stroke="#9a9a9a" stroke-width="0.45" />
<line x1="203.81" y1="139.48" x2="204.77" y2="139.48" stroke="#9a9a9a" stroke-width="0.45" />
<line x1="203.81" y1="135.66" x2="203.81" y2="139.48" stroke="#9a9a9a" stroke-width="0.45" />
<line x1="202.74" y1="137.57" x2="203.81" y2="137.57" stroke="#9a9a9a" stroke-width="0.45" />
<line x1="202.74" y1="131.84" x2="202.74" y2="137.57" stroke="#9a9a9a" stroke-width="0.45" />
<line x1="201.34" y1="134.70" x2="202.74" y2="134.70" stroke="#9a9a9a" stroke-width="0.45" />
<line x1="201.34" y1="128.02" x2="201.34" y2="134.70" stroke="#9a9a9a" stroke-width="0.45" />
<line x1="200.64" y1="131.36" x2="201.34" y2="131.36" stroke="#9a9a9a" stroke-width="0.45" />
<rect x="200.89" y="130.91" width="0.9" height="0.9" fill="#333"/>
<line x1="200.64" y1="124.19" x2="200.64" y2="131.36" stroke="#9a9a9a" stroke-width="0.45" />
<line x1="199.00" y1="127.78" x2="200.64" y2="127.78" stroke="#9a9a9a" stroke-width="0.45" />
<rect x="200.19" y="127.33" width="0.9" height="0.9" fill="#333"/>
<line x1="199.00" y1="120.37" x2="199.00" y2="127.78" stroke="#9a9a9a" stroke-width="0.45" />
<line x1="197.80" y1="124.07" x2="199.00" y2="124.07" stroke="#9a9a9a" stroke-width="0.6" />
<line x1="202.84" y1="143.30" x2="206.25" y2="143.30" stroke="#5a9a3a" stroke-width="0.45" />
<line x1="202.84" y1="147.13" x2="204.58" y2="147.13" stroke="#5a9a3a" stroke-width="0.45" />
<line x1="202.84" y1="143.30" x2="202.84" y2="147.13" stroke="#5a9a3a" stroke-width="0.45" />
<line x1="200.50" y1="145.22" x2="202.84" y2="145.22" stroke="#5a9a3a" stroke-width="0.45" />
<line x1="202.72" y1="150.95" x2="206.02" y2="150.95" stroke="#5a9a3a" stroke-width="0.45" />
<line x1="204.60" y1="154.77" x2="207.29" y2="154.77" stroke="#5a9a3a" stroke-width="0.45" />
<line x1="204.60" y1="158.59" x2="206.10" y2="158.59" stroke="#5a9a3a" stroke-width="0.45" />
<line x1="204.60" y1="154.77" x2="204.60" y2="158.59" stroke="#5a9a3a" stroke-width="0.45" />
<line x1="202.72" y1="156.68" x2="204.60" y2="156.68" stroke="#5a9a3a" stroke-width="0.45" />
<rect x="204.15" y="156.23" width="0.9" height="0.9" fill="#333"/>
<line x1="202.72" y1="150.95" x2="202.72" y2="156.68" stroke="#5a9a3a" stroke-width="0.45" />
<line x1="200.50" y1="153.81" x2="202.72" y2="153.81" stroke="#5a9a3a" stroke-width="0.45" />
<rect x="202.27" y="153.36" width="0.9" height="0.9" fill="#333"/>
<line x1="200.50" y1="145.22" x2="200.50" y2="153.81" stroke="#5a9a3a" stroke-width="0.45" />
<line x1="197.20" y1="149.51" x2="200.50" y2="149.51" stroke="#5a9a3a" stroke-width="0.6" />
<line x1="199.50" y1="162.41" x2="201.00" y2="162.41" stroke="#9a9a9a" stroke-width="0.45" />
<line x1="201.45" y1="166.24" x2="203.25" y2="166.24" stroke="#9a9a9a" stroke-width="0.45" />
<line x1="201.45" y1="170.06" x2="203.32" y2="170.06" stroke="#9a9a9a" stroke-width="0.45" />
<line x1="201.45" y1="166.24" x2="201.45" y2="170.06" stroke="#9a9a9a" stroke-width="0.45" />
<line x1="199.50" y1="168.15" x2="201.45" y2="168.15" stroke="#9a9a9a" stroke-width="0.45" />
<line x1="199.50" y1="162.41" x2="199.50" y2="168.15" stroke="#9a9a9a" stroke-width="0.45" />
<line x1="197.20" y1="165.28" x2="199.50" y2="165.28" stroke="#9a9a9a" stroke-width="0.6" />
<line x1="203.50" y1="173.88" x2="204.49" y2="173.88" stroke="#5a9ad8" stroke-width="0.45" />
<line x1="203.87" y1="177.70" x2="204.20" y2="177.70" stroke="#5a9ad8" stroke-width="0.45" />
<line x1="204.27" y1="181.52" x2="204.91" y2="181.52" stroke="#5a9ad8" stroke-width="0.45" />
<line x1="204.92" y1="185.35" x2="205.50" y2="185.35" stroke="#5a9ad8" stroke-width="0.45" />
<line x1="204.92" y1="189.17" x2="205.65" y2="189.17" stroke="#5a9ad8" stroke-width="0.45" />
<line x1="204.92" y1="185.35" x2="204.92" y2="189.17" stroke="#5a9ad8" stroke-width="0.45" />
<line x1="204.57" y1="187.26" x2="204.92" y2="187.26" stroke="#5a9ad8" stroke-width="0.45" />
<rect x="204.47" y="186.81" width="0.9" height="0.9" fill="#333"/>
<line x1="205.02" y1="192.99" x2="205.98" y2="192.99" stroke="#5a9ad8" stroke-width="0.45" />
<line x1="205.79" y1="196.81" x2="206.59" y2="196.81" stroke="#5a9ad8" stroke-width="0.45" />
<line x1="206.42" y1="200.63" x2="207.16" y2="200.63" stroke="#5a9ad8" stroke-width="0.45" />
<line x1="206.75" y1="204.46" x2="207.09" y2="204.46" stroke="#5a9ad8" stroke-width="0.45" />
<line x1="207.02" y1="208.28" x2="208.00" y2="208.28" stroke="#5a9ad8" stroke-width="0.45" />
<line x1="207.02" y1="212.10" x2="207.85" y2="212.10" stroke="#5a9ad8" stroke-width="0.45" />
<line x1="207.02" y1="208.28" x2="207.02" y2="212.10" stroke="#5a9ad8" stroke-width="0.45" />
<line x1="206.75" y1="210.19" x2="207.02" y2="210.19" stroke="#5a9ad8" stroke-width="0.45" />
<line x1="206.75" y1="204.46" x2="206.75" y2="210.19" stroke="#5a9ad8" stroke-width="0.45" />
<line x1="206.42" y1="207.32" x2="206.75" y2="207.32" stroke="#5a9ad8" stroke-width="0.45" />
<rect x="206.30" y="206.87" width="0.9" height="0.9" fill="#333"/>
<line x1="206.42" y1="200.63" x2="206.42" y2="207.32" stroke="#5a9ad8" stroke-width="0.45" />
<line x1="205.79" y1="203.98" x2="206.42" y2="203.98" stroke="#5a9ad8" stroke-width="0.45" />
<line x1="205.79" y1="196.81" x2="205.79" y2="203.98" stroke="#5a9ad8" stroke-width="0.45" />
<line x1="205.02" y1="200.40" x2="205.79" y2="200.40" stroke="#5a9ad8" stroke-width="0.45" />
<line x1="205.02" y1="192.99" x2="205.02" y2="200.40" stroke="#5a9ad8" stroke-width="0.45" />
<line x1="204.57" y1="196.69" x2="205.02" y2="196.69" stroke="#5a9ad8" stroke-width="0.45" />
<line x1="204.57" y1="187.26" x2="204.57" y2="196.69" stroke="#5a9ad8" stroke-width="0.45" />
<line x1="204.27" y1="191.97" x2="204.57" y2="191.97" stroke="#5a9ad8" stroke-width="0.45" />
<rect x="204.12" y="191.52" width="0.9" height="0.9" fill="#333"/>
<line x1="204.27" y1="181.52" x2="204.27" y2="191.97" stroke="#5a9ad8" stroke-width="0.45" />
<line x1="203.87" y1="186.75" x2="204.27" y2="186.75" stroke="#5a9ad8" stroke-width="0.45" />
<line x1="203.87" y1="177.70" x2="203.87" y2="186.75" stroke="#5a9ad8" stroke-width="0.45" />
<line x1="203.50" y1="182.23" x2="203.87" y2="182.23" stroke="#5a9ad8" stroke-width="0.45" />
<rect x="203.42" y="181.78" width="0.9" height="0.9" fill="#333"/>
<line x1="203.50" y1="173.88" x2="203.50" y2="182.23" stroke="#5a9ad8" stroke-width="0.45" />
<line x1="199.30" y1="178.05" x2="203.50" y2="178.05" stroke="#5a9ad8" stroke-width="0.6" />
<line x1="203.00" y1="215.92" x2="203.38" y2="215.92" stroke="#a348f0" stroke-width="0.45" />
<line x1="203.31" y1="219.74" x2="203.62" y2="219.74" stroke="#a348f0" stroke-width="0.45" />
<line x1="203.60" y1="223.57" x2="204.00" y2="223.57" stroke="#a348f0" stroke-width="0.45" />
<line x1="203.76" y1="227.39" x2="204.17" y2="227.39" stroke="#a348f0" stroke-width="0.45" />
<line x1="204.17" y1="231.21" x2="204.67" y2="231.21" stroke="#a348f0" stroke-width="0.45" />
<line x1="204.50" y1="235.03" x2="204.81" y2="235.03" stroke="#a348f0" stroke-width="0.45" />
<line x1="204.84" y1="238.85" x2="205.22" y2="238.85" stroke="#a348f0" stroke-width="0.45" />
<line x1="205.10" y1="242.68" x2="205.58" y2="242.68" stroke="#a348f0" stroke-width="0.45" />
<line x1="205.26" y1="246.50" x2="205.71" y2="246.50" stroke="#a348f0" stroke-width="0.45" />
<line x1="205.40" y1="250.32" x2="205.79" y2="250.32" stroke="#a348f0" stroke-width="0.45" />
<line x1="205.67" y1="254.14" x2="205.92" y2="254.14" stroke="#a348f0" stroke-width="0.45" />
<line x1="205.99" y1="257.96" x2="206.35" y2="257.96" stroke="#a348f0" stroke-width="0.45" />
<line x1="206.30" y1="261.79" x2="206.81" y2="261.79" stroke="#a348f0" stroke-width="0.45" />
<line x1="206.50" y1="265.61" x2="206.67" y2="265.61" stroke="#a348f0" stroke-width="0.45" />
<line x1="206.72" y1="269.43" x2="207.15" y2="269.43" stroke="#a348f0" stroke-width="0.45" />
<line x1="206.72" y1="273.25" x2="206.96" y2="273.25" stroke="#a348f0" stroke-width="0.45" />
<line x1="206.72" y1="269.43" x2="206.72" y2="273.25" stroke="#a348f0" stroke-width="0.45" />
<line x1="206.50" y1="271.34" x2="206.72" y2="271.34" stroke="#a348f0" stroke-width="0.45" />
<rect x="206.27" y="270.89" width="0.9" height="0.9" fill="#333"/>
<line x1="206.50" y1="265.61" x2="206.50" y2="271.34" stroke="#a348f0" stroke-width="0.45" />
<line x1="206.30" y1="268.47" x2="206.50" y2="268.47" stroke="#a348f0" stroke-width="0.45" />
<line x1="206.30" y1="261.79" x2="206.30" y2="268.47" stroke="#a348f0" stroke-width="0.45" />
<line x1="205.99" y1="265.13" x2="206.30" y2="265.13" stroke="#a348f0" stroke-width="0.45" />
<line x1="205.99" y1="257.96" x2="205.99" y2="265.13" stroke="#a348f0" stroke-width="0.45" />
<line x1="205.67" y1="261.55" x2="205.99" y2="261.55" stroke="#a348f0" stroke-width="0.45" />
<rect x="205.54" y="261.10" width="0.9" height="0.9" fill="#333"/>
<line x1="205.67" y1="254.14" x2="205.67" y2="261.55" stroke="#a348f0" stroke-width="0.45" />
<line x1="205.40" y1="257.84" x2="205.67" y2="257.84" stroke="#a348f0" stroke-width="0.45" />
<line x1="205.40" y1="250.32" x2="205.40" y2="257.84" stroke="#a348f0" stroke-width="0.45" />
<line x1="205.26" y1="254.08" x2="205.40" y2="254.08" stroke="#a348f0" stroke-width="0.45" />
<rect x="204.95" y="253.63" width="0.9" height="0.9" fill="#333"/>
<line x1="205.26" y1="246.50" x2="205.26" y2="254.08" stroke="#a348f0" stroke-width="0.45" />
<line x1="205.10" y1="250.29" x2="205.26" y2="250.29" stroke="#a348f0" stroke-width="0.45" />
<line x1="205.10" y1="242.68" x2="205.10" y2="250.29" stroke="#a348f0" stroke-width="0.45" />
<line x1="204.84" y1="246.48" x2="205.10" y2="246.48" stroke="#a348f0" stroke-width="0.45" />
<rect x="204.65" y="246.03" width="0.9" height="0.9" fill="#333"/>
<line x1="204.84" y1="238.85" x2="204.84" y2="246.48" stroke="#a348f0" stroke-width="0.45" />
<line x1="204.50" y1="242.67" x2="204.84" y2="242.67" stroke="#a348f0" stroke-width="0.45" />
<rect x="204.39" y="242.22" width="0.9" height="0.9" fill="#333"/>
<line x1="204.50" y1="235.03" x2="204.50" y2="242.67" stroke="#a348f0" stroke-width="0.45" />
<line x1="204.17" y1="238.85" x2="204.50" y2="238.85" stroke="#a348f0" stroke-width="0.45" />
<line x1="204.17" y1="231.21" x2="204.17" y2="238.85" stroke="#a348f0" stroke-width="0.45" />
<line x1="203.76" y1="235.03" x2="204.17" y2="235.03" stroke="#a348f0" stroke-width="0.45" />
<line x1="203.76" y1="227.39" x2="203.76" y2="235.03" stroke="#a348f0" stroke-width="0.45" />
<line x1="203.60" y1="231.21" x2="203.76" y2="231.21" stroke="#a348f0" stroke-width="0.45" />
<line x1="203.60" y1="223.57" x2="203.60" y2="231.21" stroke="#a348f0" stroke-width="0.45" />
<line x1="203.31" y1="227.39" x2="203.60" y2="227.39" stroke="#a348f0" stroke-width="0.45" />
<rect x="203.15" y="226.94" width="0.9" height="0.9" fill="#333"/>
<line x1="203.31" y1="219.74" x2="203.31" y2="227.39" stroke="#a348f0" stroke-width="0.45" />
<line x1="203.00" y1="223.57" x2="203.31" y2="223.57" stroke="#a348f0" stroke-width="0.45" />
<line x1="203.00" y1="215.92" x2="203.00" y2="223.57" stroke="#a348f0" stroke-width="0.45" />
<line x1="199.30" y1="219.74" x2="203.00" y2="219.74" stroke="#a348f0" stroke-width="0.6" />
<line x1="218.03" y1="21.00" x2="227.80" y2="21.00" stroke="#e2e2e2" stroke-width="0.4" />
<line x1="219.81" y1="24.82" x2="227.80" y2="24.82" stroke="#e2e2e2" stroke-width="0.4" />
<line x1="219.70" y1="28.64" x2="227.80" y2="28.64" stroke="#e2e2e2" stroke-width="0.4" />
<line x1="222.55" y1="32.47" x2="227.80" y2="32.47" stroke="#e2e2e2" stroke-width="0.4" />
<line x1="221.49" y1="36.29" x2="227.80" y2="36.29" stroke="#e2e2e2" stroke-width="0.4" />
<line x1="222.67" y1="40.11" x2="227.80" y2="40.11" stroke="#e2e2e2" stroke-width="0.4" />
<line x1="223.16" y1="43.93" x2="227.80" y2="43.93" stroke="#e2e2e2" stroke-width="0.4" />
<line x1="224.36" y1="47.75" x2="227.80" y2="47.75" stroke="#e2e2e2" stroke-width="0.4" />
<line x1="223.60" y1="51.58" x2="227.80" y2="51.58" stroke="#e2e2e2" stroke-width="0.4" />
<line x1="216.27" y1="55.40" x2="227.80" y2="55.40" stroke="#e2e2e2" stroke-width="0.4" />
<line x1="216.44" y1="59.22" x2="227.80" y2="59.22" stroke="#e2e2e2" stroke-width="0.4" />
<line x1="216.95" y1="63.04" x2="227.80" y2="63.04" stroke="#e2e2e2" stroke-width="0.4" />
<line x1="217.34" y1="66.86" x2="227.80" y2="66.86" stroke="#e2e2e2" stroke-width="0.4" />
<line x1="217.96" y1="70.69" x2="227.80" y2="70.69" stroke="#e2e2e2" stroke-width="0.4" />
<line x1="217.85" y1="74.51" x2="227.80" y2="74.51" stroke="#e2e2e2" stroke-width="0.4" />
<line x1="218.37" y1="78.33" x2="227.80" y2="78.33" stroke="#e2e2e2" stroke-width="0.4" />
<line x1="218.78" y1="82.15" x2="227.80" y2="82.15" stroke="#e2e2e2" stroke-width="0.4" />
<line x1="219.05" y1="85.97" x2="227.80" y2="85.97" stroke="#e2e2e2" stroke-width="0.4" />
<line x1="219.28" y1="89.80" x2="227.80" y2="89.80" stroke="#e2e2e2" stroke-width="0.4" />
<line x1="219.20" y1="93.62" x2="227.80" y2="93.62" stroke="#e2e2e2" stroke-width="0.4" />
<line x1="200.40" y1="97.44" x2="227.80" y2="97.44" stroke="#e2e2e2" stroke-width="0.4" />
<line x1="203.15" y1="101.26" x2="227.80" y2="101.26" stroke="#e2e2e2" stroke-width="0.4" />
<line x1="202.78" y1="105.08" x2="227.80" y2="105.08" stroke="#e2e2e2" stroke-width="0.4" />
<line x1="204.92" y1="108.91" x2="227.80" y2="108.91" stroke="#e2e2e2" stroke-width="0.4" />
<line x1="206.09" y1="112.73" x2="227.80" y2="112.73" stroke="#e2e2e2" stroke-width="0.4" />
<line x1="204.89" y1="116.55" x2="227.80" y2="116.55" stroke="#e2e2e2" stroke-width="0.4" />
<line x1="201.19" y1="120.37" x2="227.80" y2="120.37" stroke="#e2e2e2" stroke-width="0.4" />
<line x1="202.44" y1="124.19" x2="227.80" y2="124.19" stroke="#e2e2e2" stroke-width="0.4" />
<line x1="202.84" y1="128.02" x2="227.80" y2="128.02" stroke="#e2e2e2" stroke-width="0.4" />
<line x1="203.91" y1="131.84" x2="227.80" y2="131.84" stroke="#e2e2e2" stroke-width="0.4" />
<line x1="206.02" y1="135.66" x2="227.80" y2="135.66" stroke="#e2e2e2" stroke-width="0.4" />
<line x1="205.17" y1="139.48" x2="227.80" y2="139.48" stroke="#e2e2e2" stroke-width="0.4" />
<line x1="206.65" y1="143.30" x2="227.80" y2="143.30" stroke="#e2e2e2" stroke-width="0.4" />
<line x1="204.98" y1="147.13" x2="227.80" y2="147.13" stroke="#e2e2e2" stroke-width="0.4" />
<line x1="206.42" y1="150.95" x2="227.80" y2="150.95" stroke="#e2e2e2" stroke-width="0.4" />
<line x1="207.69" y1="154.77" x2="227.80" y2="154.77" stroke="#e2e2e2" stroke-width="0.4" />
<line x1="206.50" y1="158.59" x2="227.80" y2="158.59" stroke="#e2e2e2" stroke-width="0.4" />
<line x1="201.40" y1="162.41" x2="227.80" y2="162.41" stroke="#e2e2e2" stroke-width="0.4" />
<line x1="203.65" y1="166.24" x2="227.80" y2="166.24" stroke="#e2e2e2" stroke-width="0.4" />
<line x1="203.72" y1="170.06" x2="227.80" y2="170.06" stroke="#e2e2e2" stroke-width="0.4" />
<line x1="204.89" y1="173.88" x2="227.80" y2="173.88" stroke="#e2e2e2" stroke-width="0.4" />
<line x1="204.60" y1="177.70" x2="227.80" y2="177.70" stroke="#e2e2e2" stroke-width="0.4" />
<line x1="205.31" y1="181.52" x2="227.80" y2="181.52" stroke="#e2e2e2" stroke-width="0.4" />
<line x1="205.90" y1="185.35" x2="227.80" y2="185.35" stroke="#e2e2e2" stroke-width="0.4" />
<line x1="206.05" y1="189.17" x2="227.80" y2="189.17" stroke="#e2e2e2" stroke-width="0.4" />
<line x1="206.38" y1="192.99" x2="227.80" y2="192.99" stroke="#e2e2e2" stroke-width="0.4" />
<line x1="206.99" y1="196.81" x2="227.80" y2="196.81" stroke="#e2e2e2" stroke-width="0.4" />
<line x1="207.56" y1="200.63" x2="227.80" y2="200.63" stroke="#e2e2e2" stroke-width="0.4" />
<line x1="207.49" y1="204.46" x2="227.80" y2="204.46" stroke="#e2e2e2" stroke-width="0.4" />
<line x1="208.40" y1="208.28" x2="227.80" y2="208.28" stroke="#e2e2e2" stroke-width="0.4" />
<line x1="208.25" y1="212.10" x2="227.80" y2="212.10" stroke="#e2e2e2" stroke-width="0.4" />
<line x1="203.78" y1="215.92" x2="227.80" y2="215.92" stroke="#e2e2e2" stroke-width="0.4" />
<line x1="204.02" y1="219.74" x2="227.80" y2="219.74" stroke="#e2e2e2" stroke-width="0.4" />
<line x1="204.40" y1="223.57" x2="227.80" y2="223.57" stroke="#e2e2e2" stroke-width="0.4" />
<line x1="204.57" y1="227.39" x2="227.80" y2="227.39" stroke="#e2e2e2" stroke-width="0.4" />
<line x1="205.07" y1="231.21" x2="227.80" y2="231.21" stroke="#e2e2e2" stroke-width="0.4" />
<line x1="205.21" y1="235.03" x2="227.80" y2="235.03" stroke="#e2e2e2" stroke-width="0.4" />
<line x1="205.62" y1="238.85" x2="227.80" y2="238.85" stroke="#e2e2e2" stroke-width="0.4" />
<line x1="205.98" y1="242.68" x2="227.80" y2="242.68" stroke="#e2e2e2" stroke-width="0.4" />
<line x1="206.11" y1="246.50" x2="227.80" y2="246.50" stroke="#e2e2e2" stroke-width="0.4" />
<line x1="206.19" y1="250.32" x2="227.80" y2="250.32" stroke="#e2e2e2" stroke-width="0.4" />
<line x1="206.32" y1="254.14" x2="227.80" y2="254.14" stroke="#e2e2e2" stroke-width="0.4" />
<line x1="206.75" y1="257.96" x2="227.80" y2="257.96" stroke="#e2e2e2" stroke-width="0.4" />
<line x1="207.21" y1="261.79" x2="227.80" y2="261.79" stroke="#e2e2e2" stroke-width="0.4" />
<line x1="207.07" y1="265.61" x2="227.80" y2="265.61" stroke="#e2e2e2" stroke-width="0.4" />
<line x1="207.55" y1="269.43" x2="227.80" y2="269.43" stroke="#e2e2e2" stroke-width="0.4" />
<line x1="207.36" y1="273.25" x2="227.80" y2="273.25" stroke="#e2e2e2" stroke-width="0.4" />
<g filter="url(#lb)">
<text x="228.4" y="22.05" font-size="2.88" fill="#111" stroke="#111" stroke-width="0.09">WP_106486920.1</text>
<text x="228.4" y="25.87" font-size="2.88" fill="#111" stroke="#111" stroke-width="0.09">75464_A</text>
<text x="228.4" y="29.69" font-size="2.88" fill="#111" stroke="#111" stroke-width="0.09">WP_0626701.1</text>
<text x="228.4" y="33.52" font-size="2.88" fill="#1a3cf0" stroke="#1a3cf0" stroke-width="0.09">RGS_22_06_20_Bulk_transcript_12751_1</text>
<text x="228.4" y="37.34" font-size="2.88" fill="#111" stroke="#111" stroke-width="0.09">WP_201200390.1</text>
<text x="228.4" y="41.16" font-size="2.88" fill="#111" stroke="#111" stroke-width="0.09">WP_59218094.1</text>
<text x="228.4" y="44.98" font-size="2.88" fill="#111" stroke="#111" stroke-width="0.09">AAE07697.1</text>
<text x="228.4" y="48.80" font-size="2.88" fill="#111" stroke="#111" stroke-width="0.09">WP_05950567.1</text>
<text x="228.4" y="52.63" font-size="2.88" fill="#111" stroke="#111" stroke-width="0.09">WP_05819363.1</text>
<text x="228.4" y="56.45" font-size="2.88" fill="#111" stroke="#111" stroke-width="0.09">WP_174243386.1</text>
<text x="228.4" y="60.27" font-size="2.88" fill="#111" stroke="#111" stroke-width="0.09">WP_18345155.1</text>
<text x="228.4" y="64.09" font-size="2.88" fill="#111" stroke="#111" stroke-width="0.09">WP_36059809.1</text>
<text x="228.4" y="67.91" font-size="2.88" fill="#111" stroke="#111" stroke-width="0.09">WP_54980175.1</text>
<text x="228.4" y="71.74" font-size="2.88" fill="#111" stroke="#111" stroke-width="0.09">WP_176690588.1</text>
<text x="228.4" y="75.56" font-size="2.88" fill="#111" stroke="#111" stroke-width="0.09">WP_21624885.1</text>
<text x="228.4" y="79.38" font-size="2.88" fill="#111" stroke="#111" stroke-width="0.09">WP_16696811.1</text>
<text x="228.4" y="83.20" font-size="2.88" fill="#111" stroke="#111" stroke-width="0.09">WP_28643427.1</text>
<text x="228.4" y="87.02" font-size="2.88" fill="#1a3cf0" stroke="#1a3cf0" stroke-width="0.09">RGS_22_11_24_HT_transcript_4455_3</text>
<text x="228.4" y="90.85" font-size="2.88" fill="#111" stroke="#111" stroke-width="0.09">WP_4056556.1</text>
<text x="228.4" y="94.67" font-size="2.88" fill="#111" stroke="#111" stroke-width="0.09">AAY37864.1_PmoB</text>
<text x="228.4" y="98.49" font-size="2.88" fill="#1a3cf0" stroke="#1a3cf0" stroke-width="0.09">RGS_22_11_08_HT_transcript_2080_3</text>
<text x="228.4" y="102.31" font-size="2.88" fill="#1a3cf0" stroke="#1a3cf0" stroke-width="0.09">RGS_22_06_20_HT_transcript_12306_1</text>
<text x="228.4" y="106.13" font-size="2.88" fill="#111" stroke="#111" stroke-width="0.09">WP_3660658.1</text>
<text x="228.4" y="109.96" font-size="2.88" fill="#111" stroke="#111" stroke-width="0.09">WP_318605006.1</text>
<text x="228.4" y="113.78" font-size="2.88" fill="#111" stroke="#111" stroke-width="0.09">WP_7725850.1</text>
<text x="228.4" y="117.60" font-size="2.88" fill="#111" stroke="#111" stroke-width="0.09">MVT29038.1</text>
<text x="228.4" y="121.42" font-size="2.88" fill="#111" stroke="#111" stroke-width="0.09">WP_45226818.1</text>
<text x="228.4" y="125.24" font-size="2.88" fill="#1a3cf0" stroke="#1a3cf0" stroke-width="0.09">RGS_22_11_26_HT_transcript_30422_1</text>
<text x="228.4" y="129.07" font-size="2.88" fill="#1a3cf0" stroke="#1a3cf0" stroke-width="0.09">RGS_22_11_26_HT_transcript_9400_1</text>
<text x="228.4" y="132.89" font-size="2.88" fill="#1a3cf0" stroke="#1a3cf0" stroke-width="0.09">RGS_22_11_26_HT_transcript_90566_1</text>
<text x="228.4" y="136.71" font-size="2.88" fill="#111" stroke="#111" stroke-width="0.09">WP_85414809.1</text>
<text x="228.4" y="140.53" font-size="2.88" fill="#111" stroke="#111" stroke-width="0.09">WP_326093537.1</text>
<text x="228.4" y="144.35" font-size="2.88" fill="#111" stroke="#111" stroke-width="0.09">WP_34888884.1</text>
<text x="228.4" y="148.18" font-size="2.88" fill="#111" stroke="#111" stroke-width="0.09">WP_310021023.1</text>
<text x="228.4" y="152.00" font-size="2.88" fill="#111" stroke="#111" stroke-width="0.09">WP_35954405.1</text>
<text x="228.4" y="155.82" font-size="2.88" fill="#1a3cf0" stroke="#1a3cf0" stroke-width="0.09">RGS_22_06_20_HT_transcript_5168_2</text>
<text x="228.4" y="159.64" font-size="2.88" fill="#1a3cf0" stroke="#1a3cf0" stroke-width="0.09">RGS_22_06_20_HT_transcript_60555_1</text>
<text x="228.4" y="163.46" font-size="2.88" fill="#1a3cf0" stroke="#1a3cf0" stroke-width="0.09">RGS_22_11_04_Bulk_transcript_3908_1</text>
<text x="228.4" y="167.29" font-size="2.88" fill="#1a3cf0" stroke="#1a3cf0" stroke-width="0.09">RGS_22_06_20_Psy1-9_transcript_2452_1</text>
<text x="228.4" y="171.11" font-size="2.88" fill="#1a3cf0" stroke="#1a3cf0" stroke-width="0.09">RGS_22_06_20_HT_transcript_1368_3</text>
<text x="228.4" y="174.93" font-size="2.88" fill="#1a3cf0" stroke="#1a3cf0" stroke-width="0.09">RGS_22_11_24_HT_transcript_3925_3</text>
<text x="228.4" y="178.75" font-size="2.88" fill="#111" stroke="#111" stroke-width="0.09">WP_168459008.1</text>
<text x="228.4" y="182.57" font-size="2.88" fill="#111" stroke="#111" stroke-width="0.09">PPE65406.1</text>
<text x="228.4" y="186.40" font-size="2.88" fill="#111" stroke="#111" stroke-width="0.09">WP_13817557.1</text>
<text x="228.4" y="190.22" font-size="2.88" fill="#111" stroke="#111" stroke-width="0.09">WP_350623744.1</text>
<text x="228.4" y="194.04" font-size="2.88" fill="#111" stroke="#111" stroke-width="0.09">WP_358402207.1</text>
<text x="228.4" y="197.86" font-size="2.88" fill="#111" stroke="#111" stroke-width="0.09">WP_36860500.1</text>
<text x="228.4" y="201.68" font-size="2.88" fill="#111" stroke="#111" stroke-width="0.09">WP_355695006.1</text>
<text x="228.4" y="205.51" font-size="2.88" fill="#111" stroke="#111" stroke-width="0.09">WP_94068395.1</text>
<text x="228.4" y="209.33" font-size="2.88" fill="#111" stroke="#111" stroke-width="0.09">WP_97760028.1</text>
<text x="228.4" y="213.15" font-size="2.88" fill="#111" stroke="#111" stroke-width="0.09">WP_94225014.1</text>
<text x="228.4" y="216.97" font-size="2.88" fill="#111" stroke="#111" stroke-width="0.09">MDP5150334.1</text>
<text x="228.4" y="220.79" font-size="2.88" fill="#111" stroke="#111" stroke-width="0.09">MDP5679443.1</text>
<text x="228.4" y="224.62" font-size="2.88" fill="#111" stroke="#111" stroke-width="0.09">WP_350508808.1</text>
<text x="228.4" y="228.44" font-size="2.88" fill="#111" stroke="#111" stroke-width="0.09">WP_305268395.1</text>
<text x="228.4" y="232.26" font-size="2.88" fill="#111" stroke="#111" stroke-width="0.09">MDO9047092.1</text>
<text x="228.4" y="236.08" font-size="2.88" fill="#111" stroke="#111" stroke-width="0.09">WP_104433413.1</text>
<text x="228.4" y="239.90" font-size="2.88" fill="#111" stroke="#111" stroke-width="0.09">WP_8881786.1</text>
<text x="228.4" y="243.73" font-size="2.88" fill="#111" stroke="#111" stroke-width="0.09">WP_91497565.1</text>
<text x="228.4" y="247.55" font-size="2.88" fill="#111" stroke="#111" stroke-width="0.09">MDX0986251.1</text>
<text x="228.4" y="251.37" font-size="2.88" fill="#111" stroke="#111" stroke-width="0.09">TAN59328.1</text>
<text x="228.4" y="255.19" font-size="2.88" fill="#111" stroke="#111" stroke-width="0.09">MDFC77HTS.1</text>
<text x="228.4" y="259.01" font-size="2.88" fill="#111" stroke="#111" stroke-width="0.09">WP_17027646.1</text>
<text x="228.4" y="262.84" font-size="2.88" fill="#1a3cf0" stroke="#1a3cf0" stroke-width="0.09">RGS_22_06_20_Psy1-9_transcript_3776_3</text>
<text x="228.4" y="266.66" font-size="2.88" fill="#1a3cf0" stroke="#1a3cf0" stroke-width="0.09">RGS_22_06_20_HT_transcript_5976_5</text>
<text x="228.4" y="270.48" font-size="2.88" fill="#111" stroke="#111" stroke-width="0.09">WP_35648007.1</text>
<text x="228.4" y="274.30" font-size="2.88" fill="#1a3cf0" stroke="#1a3cf0" stroke-width="0.09">RGS_22_11_04_Bulk_transcript_3812_2</text>
</g>
<rect x="286.80" y="20.00" width="4.40" height="33.00" fill="#b89b72" />
<rect x="286.80" y="54.25" width="4.40" height="40.25" fill="#fdb862" />
<rect x="286.80" y="96.75" width="4.40" height="20.75" fill="#ea6843" />
<rect x="286.80" y="119.50" width="4.40" height="21.00" fill="#fcc1a4" />
<rect x="286.80" y="142.50" width="4.40" height="17.50" fill="#e0353f" />
<rect x="286.80" y="161.75" width="4.40" height="9.50" fill="#fcc1a4" />
<rect x="286.80" y="172.50" width="4.40" height="40.50" fill="#f78d1e" />
<rect x="286.80" y="215.00" width="4.40" height="60.25" fill="#f08080" />
<text x="296.00" y="36.70" font-size="4.97" fill="#9a8468" text-anchor="middle" font-weight="normal" font-style="italic" transform="rotate(90 296.00 36.70)" stroke="#9a8468" stroke-width="0.25">Methylocystis</text>
<text x="296.00" y="73.20" font-size="5.2" fill="#e8954a" text-anchor="middle" font-weight="normal" font-style="italic" transform="rotate(90 296.00 73.20)" stroke="#e8954a" stroke-width="0.25">Methylosinus</text>
<text x="296.00" y="107.40" font-size="4.37" fill="#e05c3c" text-anchor="middle" font-weight="normal" font-style="italic" transform="rotate(90 296.00 107.40)" stroke="#e05c3c" stroke-width="0.25">Methylocaldum</text>
<text x="296.00" y="152.10" font-size="4.41" fill="#d8303c" text-anchor="middle" font-weight="normal" font-style="italic" transform="rotate(90 296.00 152.10)" stroke="#d8303c" stroke-width="0.25">Methylomicrobium</text>
<text x="296.00" y="193.90" font-size="5.23" fill="#ea8420" text-anchor="middle" font-weight="normal" font-style="italic" transform="rotate(90 296.00 193.90)" stroke="#ea8420" stroke-width="0.25">Methylomonas</text>
<text x="296.00" y="243.90" font-size="4.98" fill="#e87070" text-anchor="middle" font-weight="normal" font-style="italic" transform="rotate(90 296.00 243.90)" stroke="#e87070" stroke-width="0.25">Methylobacter</text>
<text x="141.00" y="270.00" font-size="4.5" fill="#333" text-anchor="start" font-weight="normal" font-style="normal" stroke="#333" stroke-width="0.1">Tree scale: 0.5</text>
<line x1="145.00" y1="274.50" x2="165.50" y2="274.50" stroke="#777" stroke-width="0.5" />
<line x1="145.00" y1="273.50" x2="145.00" y2="275.50" stroke="#777" stroke-width="0.5" />
<line x1="155.20" y1="274.00" x2="155.20" y2="275.00" stroke="#777" stroke-width="0.5" />
<line x1="165.50" y1="273.50" x2="165.50" y2="275.50" stroke="#777" stroke-width="0.5" />
<text x="319.60" y="6.00" font-size="7.2" fill="#000" text-anchor="start" font-weight="bold" font-style="normal" >c</text>
<rect x="353.70" y="89.30" width="10.00" height="1.90" fill="#5b9fd4" stroke="#1d2a30" stroke-width="0.35" />
<rect x="353.70" y="87.50" width="10.00" height="1.80" fill="#3f8db5" stroke="#1d2a30" stroke-width="0.35" />
<rect x="353.70" y="85.50" width="10.00" height="2.00" fill="#a6d89a" stroke="#1d2a30" stroke-width="0.35" />
<rect x="353.70" y="83.40" width="10.00" height="2.10" fill="#70c25c" stroke="#1d2a30" stroke-width="0.35" />
<rect x="353.70" y="82.50" width="10.00" height="0.90" fill="#3d9e40" stroke="#1d2a30" stroke-width="0.35" />
<line x1="358.70" y1="81.40" x2="358.70" y2="83.60" stroke="#444" stroke-width="0.45" />
<line x1="357.60" y1="81.40" x2="359.80" y2="81.40" stroke="#444" stroke-width="0.45" />
<line x1="357.60" y1="83.60" x2="359.80" y2="83.60" stroke="#444" stroke-width="0.45" />
<rect x="368.30" y="61.40" width="10.00" height="29.80" fill="#5b9fd4" stroke="#1d2a30" stroke-width="0.35" />
<rect x="368.30" y="50.20" width="10.00" height="11.20" fill="#3f8db5" stroke="#1d2a30" stroke-width="0.35" />
<rect x="368.30" y="42.70" width="10.00" height="7.50" fill="#a6d89a" stroke="#1d2a30" stroke-width="0.35" />
<rect x="368.30" y="40.00" width="10.00" height="2.70" fill="#70c25c" stroke="#1d2a30" stroke-width="0.35" />
<rect x="368.30" y="38.90" width="10.00" height="1.10" fill="#3d9e40" stroke="#1d2a30" stroke-width="0.35" />
<line x1="373.30" y1="32.00" x2="373.30" y2="45.80" stroke="#444" stroke-width="0.45" />
<line x1="372.20" y1="32.00" x2="374.40" y2="32.00" stroke="#444" stroke-width="0.45" />
<line x1="372.20" y1="45.80" x2="374.40" y2="45.80" stroke="#444" stroke-width="0.45" />
<rect x="382.90" y="84.60" width="10.00" height="6.60" fill="#5b9fd4" stroke="#1d2a30" stroke-width="0.35" />
<rect x="382.90" y="77.20" width="10.00" height="7.40" fill="#3f8db5" stroke="#1d2a30" stroke-width="0.35" />
<rect x="382.90" y="75.20" width="10.00" height="2.00" fill="#a6d89a" stroke="#1d2a30" stroke-width="0.35" />
<rect x="382.90" y="67.80" width="10.00" height="7.40" fill="#70c25c" stroke="#1d2a30" stroke-width="0.35" />
<rect x="382.90" y="66.10" width="10.00" height="1.70" fill="#3d9e40" stroke="#1d2a30" stroke-width="0.35" />
<line x1="387.90" y1="61.80" x2="387.90" y2="70.40" stroke="#444" stroke-width="0.45" />
<line x1="386.80" y1="61.80" x2="389.00" y2="61.80" stroke="#444" stroke-width="0.45" />
<line x1="386.80" y1="70.40" x2="389.00" y2="70.40" stroke="#444" stroke-width="0.45" />
<rect x="397.50" y="84.30" width="10.00" height="6.90" fill="#5b9fd4" stroke="#1d2a30" stroke-width="0.35" />
<rect x="397.50" y="80.10" width="10.00" height="4.20" fill="#3f8db5" stroke="#1d2a30" stroke-width="0.35" />
<rect x="397.50" y="78.90" width="10.00" height="1.20" fill="#a6d89a" stroke="#1d2a30" stroke-width="0.35" />
<rect x="397.50" y="78.00" width="10.00" height="0.90" fill="#3d9e40" stroke="#1d2a30" stroke-width="0.35" />
<line x1="402.50" y1="76.30" x2="402.50" y2="79.70" stroke="#444" stroke-width="0.45" />
<line x1="401.40" y1="76.30" x2="403.60" y2="76.30" stroke="#444" stroke-width="0.45" />
<line x1="401.40" y1="79.70" x2="403.60" y2="79.70" stroke="#444" stroke-width="0.45" />
<rect x="419.17" y="89.30" width="10.00" height="1.90" fill="#3f8db5" stroke="#1d2a30" stroke-width="0.35" />
<rect x="419.17" y="83.30" width="10.00" height="6.00" fill="#a6d89a" stroke="#1d2a30" stroke-width="0.35" />
<rect x="419.17" y="82.20" width="10.00" height="1.10" fill="#3d9e40" stroke="#1d2a30" stroke-width="0.35" />
<line x1="424.17" y1="81.00" x2="424.17" y2="83.40" stroke="#444" stroke-width="0.45" />
<line x1="423.07" y1="81.00" x2="425.27" y2="81.00" stroke="#444" stroke-width="0.45" />
<line x1="423.07" y1="83.40" x2="425.27" y2="83.40" stroke="#444" stroke-width="0.45" />
<rect x="433.77" y="69.80" width="10.00" height="21.40" fill="#5b9fd4" stroke="#1d2a30" stroke-width="0.35" />
<rect x="433.77" y="53.20" width="10.00" height="16.60" fill="#3f8db5" stroke="#1d2a30" stroke-width="0.35" />
<rect x="433.77" y="44.20" width="10.00" height="9.00" fill="#a6d89a" stroke="#1d2a30" stroke-width="0.35" />
<rect x="433.77" y="37.50" width="10.00" height="6.70" fill="#70c25c" stroke="#1d2a30" stroke-width="0.35" />
<rect x="433.77" y="36.60" width="10.00" height="0.90" fill="#3d9e40" stroke="#1d2a30" stroke-width="0.35" />
<line x1="438.77" y1="27.30" x2="438.77" y2="45.90" stroke="#444" stroke-width="0.45" />
<line x1="437.67" y1="27.30" x2="439.87" y2="27.30" stroke="#444" stroke-width="0.45" />
<line x1="437.67" y1="45.90" x2="439.87" y2="45.90" stroke="#444" stroke-width="0.45" />
<rect x="448.37" y="77.30" width="10.00" height="13.90" fill="#5b9fd4" stroke="#1d2a30" stroke-width="0.35" />
<rect x="448.37" y="67.30" width="10.00" height="10.00" fill="#3f8db5" stroke="#1d2a30" stroke-width="0.35" />
<rect x="448.37" y="62.80" width="10.00" height="4.50" fill="#a6d89a" stroke="#1d2a30" stroke-width="0.35" />
<rect x="448.37" y="59.50" width="10.00" height="3.30" fill="#70c25c" stroke="#1d2a30" stroke-width="0.35" />
<rect x="448.37" y="58.30" width="10.00" height="1.20" fill="#3d9e40" stroke="#1d2a30" stroke-width="0.35" />
<line x1="453.37" y1="53.80" x2="453.37" y2="62.80" stroke="#444" stroke-width="0.45" />
<line x1="452.27" y1="53.80" x2="454.47" y2="53.80" stroke="#444" stroke-width="0.45" />
<line x1="452.27" y1="62.80" x2="454.47" y2="62.80" stroke="#444" stroke-width="0.45" />
<rect x="462.97" y="19.90" width="10.00" height="71.30" fill="#5b9fd4" stroke="#1d2a30" stroke-width="0.35" />
<rect x="462.97" y="17.30" width="10.00" height="2.60" fill="#3f8db5" stroke="#1d2a30" stroke-width="0.35" />
<rect x="462.97" y="15.80" width="10.00" height="1.50" fill="#3d9e40" stroke="#1d2a30" stroke-width="0.35" />
<line x1="467.97" y1="9.30" x2="467.97" y2="22.30" stroke="#444" stroke-width="0.45" />
<line x1="466.87" y1="9.30" x2="469.07" y2="9.30" stroke="#444" stroke-width="0.45" />
<line x1="466.87" y1="22.30" x2="469.07" y2="22.30" stroke="#444" stroke-width="0.45" />
<rect x="484.64" y="89.00" width="10.00" height="2.20" fill="#5b9fd4" stroke="#1d2a30" stroke-width="0.35" />
<rect x="484.64" y="86.60" width="10.00" height="2.40" fill="#3f8db5" stroke="#1d2a30" stroke-width="0.35" />
<rect x="484.64" y="84.00" width="10.00" height="2.60" fill="#a6d89a" stroke="#1d2a30" stroke-width="0.35" />
<rect x="484.64" y="78.80" width="10.00" height="5.20" fill="#70c25c" stroke="#1d2a30" stroke-width="0.35" />
<rect x="484.64" y="78.00" width="10.00" height="0.80" fill="#3d9e40" stroke="#1d2a30" stroke-width="0.35" />
<line x1="489.64" y1="74.90" x2="489.64" y2="81.10" stroke="#444" stroke-width="0.45" />
<line x1="488.54" y1="74.90" x2="490.74" y2="74.90" stroke="#444" stroke-width="0.45" />
<line x1="488.54" y1="81.10" x2="490.74" y2="81.10" stroke="#444" stroke-width="0.45" />
<rect x="499.24" y="88.70" width="10.00" height="2.50" fill="#5b9fd4" stroke="#1d2a30" stroke-width="0.35" />
<rect x="499.24" y="86.20" width="10.00" height="2.50" fill="#3f8db5" stroke="#1d2a30" stroke-width="0.35" />
<rect x="499.24" y="75.80" width="10.00" height="10.40" fill="#a6d89a" stroke="#1d2a30" stroke-width="0.35" />
<rect x="499.24" y="74.00" width="10.00" height="1.80" fill="#70c25c" stroke="#1d2a30" stroke-width="0.35" />
<rect x="499.24" y="73.00" width="10.00" height="1.00" fill="#3d9e40" stroke="#1d2a30" stroke-width="0.35" />
<line x1="504.24" y1="69.30" x2="504.24" y2="76.70" stroke="#444" stroke-width="0.45" />
<line x1="503.14" y1="69.30" x2="505.34" y2="69.30" stroke="#444" stroke-width="0.45" />
<line x1="503.14" y1="76.70" x2="505.34" y2="76.70" stroke="#444" stroke-width="0.45" />
<rect x="513.84" y="89.00" width="10.00" height="2.20" fill="#5b9fd4" stroke="#1d2a30" stroke-width="0.35" />
<rect x="513.84" y="86.60" width="10.00" height="2.40" fill="#3f8db5" stroke="#1d2a30" stroke-width="0.35" />
<rect x="513.84" y="81.20" width="10.00" height="5.40" fill="#a6d89a" stroke="#1d2a30" stroke-width="0.35" />
<rect x="513.84" y="80.30" width="10.00" height="0.90" fill="#3d9e40" stroke="#1d2a30" stroke-width="0.35" />
<line x1="518.84" y1="78.00" x2="518.84" y2="82.60" stroke="#444" stroke-width="0.45" />
<line x1="517.74" y1="78.00" x2="519.94" y2="78.00" stroke="#444" stroke-width="0.45" />
<line x1="517.74" y1="82.60" x2="519.94" y2="82.60" stroke="#444" stroke-width="0.45" />
<rect x="528.44" y="67.40" width="10.00" height="23.80" fill="#5b9fd4" stroke="#1d2a30" stroke-width="0.35" />
<rect x="528.44" y="59.60" width="10.00" height="7.80" fill="#3f8db5" stroke="#1d2a30" stroke-width="0.35" />
<rect x="528.44" y="52.20" width="10.00" height="7.40" fill="#a6d89a" stroke="#1d2a30" stroke-width="0.35" />
<rect x="528.44" y="50.10" width="10.00" height="2.10" fill="#70c25c" stroke="#1d2a30" stroke-width="0.35" />
<rect x="528.44" y="49.00" width="10.00" height="1.10" fill="#3d9e40" stroke="#1d2a30" stroke-width="0.35" />
<line x1="533.44" y1="41.20" x2="533.44" y2="56.80" stroke="#444" stroke-width="0.45" />
<line x1="532.34" y1="41.20" x2="534.54" y2="41.20" stroke="#444" stroke-width="0.45" />
<line x1="532.34" y1="56.80" x2="534.54" y2="56.80" stroke="#444" stroke-width="0.45" />
<rect x="550.11" y="79.20" width="10.00" height="12.00" fill="#5b9fd4" stroke="#1d2a30" stroke-width="0.35" />
<rect x="550.11" y="74.50" width="10.00" height="4.70" fill="#3f8db5" stroke="#1d2a30" stroke-width="0.35" />
<rect x="550.11" y="71.70" width="10.00" height="2.80" fill="#a6d89a" stroke="#1d2a30" stroke-width="0.35" />
<rect x="550.11" y="68.90" width="10.00" height="2.80" fill="#70c25c" stroke="#1d2a30" stroke-width="0.35" />
<rect x="550.11" y="67.10" width="10.00" height="1.80" fill="#3d9e40" stroke="#1d2a30" stroke-width="0.35" />
<line x1="555.11" y1="62.80" x2="555.11" y2="71.40" stroke="#444" stroke-width="0.45" />
<line x1="554.01" y1="62.80" x2="556.21" y2="62.80" stroke="#444" stroke-width="0.45" />
<line x1="554.01" y1="71.40" x2="556.21" y2="71.40" stroke="#444" stroke-width="0.45" />
<rect x="564.71" y="83.30" width="10.00" height="7.90" fill="#5b9fd4" stroke="#1d2a30" stroke-width="0.35" />
<rect x="564.71" y="79.70" width="10.00" height="3.60" fill="#3f8db5" stroke="#1d2a30" stroke-width="0.35" />
<rect x="564.71" y="73.20" width="10.00" height="6.50" fill="#a6d89a" stroke="#1d2a30" stroke-width="0.35" />
<rect x="564.71" y="70.40" width="10.00" height="2.80" fill="#70c25c" stroke="#1d2a30" stroke-width="0.35" />
<rect x="564.71" y="69.30" width="10.00" height="1.10" fill="#3d9e40" stroke="#1d2a30" stroke-width="0.35" />
<line x1="569.71" y1="64.10" x2="569.71" y2="74.50" stroke="#444" stroke-width="0.45" />
<line x1="568.61" y1="64.10" x2="570.81" y2="64.10" stroke="#444" stroke-width="0.45" />
<line x1="568.61" y1="74.50" x2="570.81" y2="74.50" stroke="#444" stroke-width="0.45" />
<rect x="579.31" y="83.30" width="10.00" height="7.90" fill="#5b9fd4" stroke="#1d2a30" stroke-width="0.35" />
<rect x="579.31" y="72.30" width="10.00" height="11.00" fill="#3f8db5" stroke="#1d2a30" stroke-width="0.35" />
<rect x="579.31" y="67.80" width="10.00" height="4.50" fill="#a6d89a" stroke="#1d2a30" stroke-width="0.35" />
<rect x="579.31" y="65.20" width="10.00" height="2.60" fill="#70c25c" stroke="#1d2a30" stroke-width="0.35" />
<rect x="579.31" y="64.60" width="10.00" height="0.60" fill="#3d9e40" stroke="#1d2a30" stroke-width="0.35" />
<line x1="584.31" y1="58.90" x2="584.31" y2="70.30" stroke="#444" stroke-width="0.45" />
<line x1="583.21" y1="58.90" x2="585.41" y2="58.90" stroke="#444" stroke-width="0.45" />
<line x1="583.21" y1="70.30" x2="585.41" y2="70.30" stroke="#444" stroke-width="0.45" />
<rect x="593.91" y="81.20" width="10.00" height="10.00" fill="#5b9fd4" stroke="#1d2a30" stroke-width="0.35" />
<rect x="593.91" y="74.30" width="10.00" height="6.90" fill="#3f8db5" stroke="#1d2a30" stroke-width="0.35" />
<rect x="593.91" y="70.40" width="10.00" height="3.90" fill="#a6d89a" stroke="#1d2a30" stroke-width="0.35" />
<rect x="593.91" y="69.50" width="10.00" height="0.90" fill="#3d9e40" stroke="#1d2a30" stroke-width="0.35" />
<line x1="598.91" y1="66.30" x2="598.91" y2="72.70" stroke="#444" stroke-width="0.45" />
<line x1="597.81" y1="66.30" x2="600.01" y2="66.30" stroke="#444" stroke-width="0.45" />
<line x1="597.81" y1="72.70" x2="600.01" y2="72.70" stroke="#444" stroke-width="0.45" />
<line x1="347.70" y1="4.10" x2="609.50" y2="4.10" stroke="#808080" stroke-width="0.9" />
<line x1="609.50" y1="4.10" x2="609.50" y2="91.30" stroke="#808080" stroke-width="0.9" />
<line x1="345.80" y1="91.30" x2="609.50" y2="91.30" stroke="#808080" stroke-width="0.9" />
<line x1="347.70" y1="4.10" x2="347.70" y2="91.30" stroke="#333" stroke-width="0.6" />
<line x1="345.70" y1="4.00" x2="347.70" y2="4.00" stroke="#333" stroke-width="0.5" />
<text x="343.00" y="5.85" font-size="5.3" fill="#222" text-anchor="end" font-weight="normal" font-style="normal" stroke="#222" stroke-width="0.15">3500</text>
<line x1="345.70" y1="11.10" x2="347.70" y2="11.10" stroke="#333" stroke-width="0.5" />
<text x="343.00" y="12.95" font-size="5.3" fill="#222" text-anchor="end" font-weight="normal" font-style="normal" stroke="#222" stroke-width="0.15">2800</text>
<line x1="345.70" y1="18.20" x2="347.70" y2="18.20" stroke="#333" stroke-width="0.5" />
<text x="343.00" y="20.05" font-size="5.3" fill="#222" text-anchor="end" font-weight="normal" font-style="normal" stroke="#222" stroke-width="0.15">2100</text>
<line x1="345.70" y1="35.40" x2="347.70" y2="35.40" stroke="#333" stroke-width="0.5" />
<text x="343.00" y="37.25" font-size="5.3" fill="#222" text-anchor="end" font-weight="normal" font-style="normal" stroke="#222" stroke-width="0.15">300</text>
<line x1="345.70" y1="46.56" x2="347.70" y2="46.56" stroke="#333" stroke-width="0.5" />
<text x="343.00" y="48.41" font-size="5.3" fill="#222" text-anchor="end" font-weight="normal" font-style="normal" stroke="#222" stroke-width="0.15">240</text>
<line x1="345.70" y1="57.72" x2="347.70" y2="57.72" stroke="#333" stroke-width="0.5" />
<text x="343.00" y="59.57" font-size="5.3" fill="#222" text-anchor="end" font-weight="normal" font-style="normal" stroke="#222" stroke-width="0.15">180</text>
<line x1="345.70" y1="68.88" x2="347.70" y2="68.88" stroke="#333" stroke-width="0.5" />
<text x="343.00" y="70.73" font-size="5.3" fill="#222" text-anchor="end" font-weight="normal" font-style="normal" stroke="#222" stroke-width="0.15">120</text>
<line x1="345.70" y1="80.04" x2="347.70" y2="80.04" stroke="#333" stroke-width="0.5" />
<text x="343.00" y="81.89" font-size="5.3" fill="#222" text-anchor="end" font-weight="normal" font-style="normal" stroke="#222" stroke-width="0.15">60</text>
<line x1="345.70" y1="91.20" x2="347.70" y2="91.20" stroke="#333" stroke-width="0.5" />
<text x="343.00" y="93.05" font-size="5.3" fill="#222" text-anchor="end" font-weight="normal" font-style="normal" stroke="#222" stroke-width="0.15">0</text>
<line x1="346.50" y1="7.55" x2="347.70" y2="7.55" stroke="#333" stroke-width="0.5" />
<line x1="346.50" y1="14.65" x2="347.70" y2="14.65" stroke="#333" stroke-width="0.5" />
<line x1="346.50" y1="40.98" x2="347.70" y2="40.98" stroke="#333" stroke-width="0.5" />
<line x1="346.50" y1="52.14" x2="347.70" y2="52.14" stroke="#333" stroke-width="0.5" />
<line x1="346.50" y1="63.30" x2="347.70" y2="63.30" stroke="#333" stroke-width="0.5" />
<line x1="346.50" y1="74.46" x2="347.70" y2="74.46" stroke="#333" stroke-width="0.5" />
<line x1="346.50" y1="85.62" x2="347.70" y2="85.62" stroke="#333" stroke-width="0.5" />
<line x1="346.80" y1="21.50" x2="347.70" y2="21.50" stroke="#333" stroke-width="0.6" />
<line x1="346.80" y1="30.40" x2="347.70" y2="30.40" stroke="#333" stroke-width="0.6" />
<rect x="346.70" y="24.60" width="2.00" height="2.20" fill="#fff" />
<path d="M345.80,25.3 q0.9,-0.2 1.9,-0.9 q0.9,-0.7 1.9,-0.7" fill="none" stroke="#222" stroke-width="0.6"/>
<path d="M345.80,27.4 q0.9,-0.2 1.9,-0.9 q0.9,-0.7 1.9,-0.7" fill="none" stroke="#222" stroke-width="0.6"/>
<rect x="608.50" y="24.60" width="2.00" height="2.20" fill="#fff" />
<path d="M607.60,25.3 q0.9,-0.2 1.9,-0.9 q0.9,-0.7 1.9,-0.7" fill="none" stroke="#222" stroke-width="0.6"/>
<path d="M607.60,27.4 q0.9,-0.2 1.9,-0.9 q0.9,-0.7 1.9,-0.7" fill="none" stroke="#222" stroke-width="0.6"/>
<text x="380.60" y="101.80" font-size="8.3" fill="#111" text-anchor="middle" font-weight="normal" font-style="normal" stroke="#111" stroke-width="0.15">Bulk</text>
<text x="446.07" y="101.80" font-size="8.3" fill="#111" text-anchor="middle" font-weight="normal" font-style="normal" stroke="#111" stroke-width="0.15">Kitaake</text>
<text x="511.54" y="101.80" font-size="8.3" fill="#111" text-anchor="middle" font-weight="normal" font-style="normal" stroke="#111" stroke-width="0.15">PSY1-17</text>
<text x="577.01" y="101.80" font-size="8.3" fill="#111" text-anchor="middle" font-weight="normal" font-style="normal" stroke="#111" stroke-width="0.15">PSY1-9</text>
<rect x="353.70" y="106.80" width="10.00" height="5.40" fill="#b89b72" stroke="#3a2a20" stroke-width="0.35" />
<rect x="353.70" y="112.20" width="10.00" height="1.10" fill="#f28080" stroke="#3a2a20" stroke-width="0.35" />
<rect x="353.70" y="113.30" width="10.00" height="0.70" fill="#e2363e" stroke="#3a2a20" stroke-width="0.35" />
<rect x="353.70" y="114.00" width="10.00" height="1.10" fill="#5a2418" stroke="#2a1a10" stroke-width="0.3" />
<line x1="358.70" y1="113.90" x2="358.70" y2="116.30" stroke="#444" stroke-width="0.45" />
<line x1="357.60" y1="116.30" x2="359.80" y2="116.30" stroke="#444" stroke-width="0.45" />
<line x1="357.60" y1="113.90" x2="359.80" y2="113.90" stroke="#444" stroke-width="0.45" />
<rect x="368.30" y="106.80" width="10.00" height="5.60" fill="#b89b72" stroke="#3a2a20" stroke-width="0.35" />
<rect x="368.30" y="112.40" width="10.00" height="8.90" fill="#f28080" stroke="#3a2a20" stroke-width="0.35" />
<rect x="368.30" y="121.30" width="10.00" height="1.00" fill="#ec6a45" stroke="#3a2a20" stroke-width="0.35" />
<rect x="368.30" y="122.30" width="10.00" height="2.10" fill="#e2363e" stroke="#3a2a20" stroke-width="0.35" />
<rect x="368.30" y="124.40" width="10.00" height="1.60" fill="#5a2418" stroke="#2a1a10" stroke-width="0.3" />
<rect x="368.30" y="126.00" width="10.00" height="1.70" fill="#ec6a45" stroke="#3a2a20" stroke-width="0.35" />
<rect x="368.30" y="127.70" width="10.00" height="2.80" fill="#f39440" stroke="#3a2a20" stroke-width="0.35" />
<line x1="373.30" y1="126.40" x2="373.30" y2="134.60" stroke="#444" stroke-width="0.45" />
<line x1="372.20" y1="134.60" x2="374.40" y2="134.60" stroke="#444" stroke-width="0.45" />
<line x1="372.20" y1="126.40" x2="374.40" y2="126.40" stroke="#444" stroke-width="0.45" />
<rect x="382.90" y="106.80" width="10.00" height="6.50" fill="#b89b72" stroke="#3a2a20" stroke-width="0.35" />
<rect x="382.90" y="113.30" width="10.00" height="12.90" fill="#f28080" stroke="#3a2a20" stroke-width="0.35" />
<rect x="382.90" y="126.20" width="10.00" height="5.20" fill="#e2363e" stroke="#3a2a20" stroke-width="0.35" />
<rect x="382.90" y="131.40" width="10.00" height="0.90" fill="#5a2418" stroke="#2a1a10" stroke-width="0.3" />
<rect x="382.90" y="132.30" width="10.00" height="4.00" fill="#f39440" stroke="#3a2a20" stroke-width="0.35" />
<line x1="387.90" y1="133.40" x2="387.90" y2="139.20" stroke="#444" stroke-width="0.45" />
<line x1="386.80" y1="139.20" x2="389.00" y2="139.20" stroke="#444" stroke-width="0.45" />
<line x1="386.80" y1="133.40" x2="389.00" y2="133.40" stroke="#444" stroke-width="0.45" />
<rect x="397.50" y="106.80" width="10.00" height="6.00" fill="#b89b72" stroke="#3a2a20" stroke-width="0.35" />
<rect x="397.50" y="112.80" width="10.00" height="6.80" fill="#f28080" stroke="#3a2a20" stroke-width="0.35" />
<rect x="397.50" y="119.60" width="10.00" height="7.80" fill="#e2363e" stroke="#3a2a20" stroke-width="0.35" />
<rect x="397.50" y="127.40" width="10.00" height="0.60" fill="#5a2418" stroke="#2a1a10" stroke-width="0.3" />
<rect x="397.50" y="128.00" width="10.00" height="5.20" fill="#f39440" stroke="#3a2a20" stroke-width="0.35" />
<line x1="402.50" y1="128.40" x2="402.50" y2="138.00" stroke="#444" stroke-width="0.45" />
<line x1="401.40" y1="138.00" x2="403.60" y2="138.00" stroke="#444" stroke-width="0.45" />
<line x1="401.40" y1="128.40" x2="403.60" y2="128.40" stroke="#444" stroke-width="0.45" />
<rect x="419.17" y="106.80" width="10.00" height="9.40" fill="#b89b72" stroke="#3a2a20" stroke-width="0.35" />
<rect x="419.17" y="116.20" width="10.00" height="5.80" fill="#f28080" stroke="#3a2a20" stroke-width="0.35" />
<rect x="419.17" y="122.00" width="10.00" height="4.30" fill="#e2363e" stroke="#3a2a20" stroke-width="0.35" />
<rect x="419.17" y="126.30" width="10.00" height="0.70" fill="#5a2418" stroke="#2a1a10" stroke-width="0.3" />
<rect x="419.17" y="127.00" width="10.00" height="10.50" fill="#f39440" stroke="#3a2a20" stroke-width="0.35" />
<line x1="424.17" y1="130.70" x2="424.17" y2="144.30" stroke="#444" stroke-width="0.45" />
<line x1="423.07" y1="144.30" x2="425.27" y2="144.30" stroke="#444" stroke-width="0.45" />
<line x1="423.07" y1="130.70" x2="425.27" y2="130.70" stroke="#444" stroke-width="0.45" />
<rect x="433.77" y="106.80" width="10.00" height="4.10" fill="#b89b72" stroke="#3a2a20" stroke-width="0.35" />
<rect x="433.77" y="110.90" width="10.00" height="7.20" fill="#f28080" stroke="#3a2a20" stroke-width="0.35" />
<rect x="433.77" y="118.10" width="10.00" height="3.90" fill="#e2363e" stroke="#3a2a20" stroke-width="0.35" />
<rect x="433.77" y="122.00" width="10.00" height="1.00" fill="#5a2418" stroke="#2a1a10" stroke-width="0.3" />
<rect x="433.77" y="123.00" width="10.00" height="5.90" fill="#f39440" stroke="#3a2a20" stroke-width="0.35" />
<line x1="438.77" y1="123.60" x2="438.77" y2="134.20" stroke="#444" stroke-width="0.45" />
<line x1="437.67" y1="134.20" x2="439.87" y2="134.20" stroke="#444" stroke-width="0.45" />
<line x1="437.67" y1="123.60" x2="439.87" y2="123.60" stroke="#444" stroke-width="0.45" />
<rect x="448.37" y="106.80" width="10.00" height="9.40" fill="#b89b72" stroke="#3a2a20" stroke-width="0.35" />
<rect x="448.37" y="116.20" width="10.00" height="14.10" fill="#f28080" stroke="#3a2a20" stroke-width="0.35" />
<rect x="448.37" y="130.30" width="10.00" height="14.80" fill="#e2363e" stroke="#3a2a20" stroke-width="0.35" />
<rect x="448.37" y="145.10" width="10.00" height="1.90" fill="#5a2418" stroke="#2a1a10" stroke-width="0.3" />
<rect x="448.37" y="147.00" width="10.00" height="11.30" fill="#f39440" stroke="#3a2a20" stroke-width="0.35" />
<line x1="453.37" y1="152.10" x2="453.37" y2="164.50" stroke="#444" stroke-width="0.45" />
<line x1="452.27" y1="164.50" x2="454.47" y2="164.50" stroke="#444" stroke-width="0.45" />
<line x1="452.27" y1="152.10" x2="454.47" y2="152.10" stroke="#444" stroke-width="0.45" />
<rect x="462.97" y="106.80" width="10.00" height="6.60" fill="#b89b72" stroke="#3a2a20" stroke-width="0.35" />
<rect x="462.97" y="113.40" width="10.00" height="20.80" fill="#f28080" stroke="#3a2a20" stroke-width="0.35" />
<rect x="462.97" y="134.20" width="10.00" height="16.10" fill="#e2363e" stroke="#3a2a20" stroke-width="0.35" />
<rect x="462.97" y="150.30" width="10.00" height="1.30" fill="#ec6a45" stroke="#3a2a20" stroke-width="0.35" />
<rect x="462.97" y="151.60" width="10.00" height="1.20" fill="#5a2418" stroke="#2a1a10" stroke-width="0.3" />
<rect x="462.97" y="152.80" width="10.00" height="1.80" fill="#fbb463" stroke="#3a2a20" stroke-width="0.35" />
<rect x="462.97" y="154.60" width="10.00" height="17.60" fill="#f39440" stroke="#3a2a20" stroke-width="0.35" />
<line x1="467.97" y1="159.90" x2="467.97" y2="184.50" stroke="#444" stroke-width="0.45" />
<line x1="466.87" y1="184.50" x2="469.07" y2="184.50" stroke="#444" stroke-width="0.45" />
<line x1="466.87" y1="159.90" x2="469.07" y2="159.90" stroke="#444" stroke-width="0.45" />
<rect x="484.64" y="106.80" width="10.00" height="4.10" fill="#b89b72" stroke="#3a2a20" stroke-width="0.35" />
<rect x="484.64" y="110.90" width="10.00" height="3.90" fill="#f28080" stroke="#3a2a20" stroke-width="0.35" />
<rect x="484.64" y="114.80" width="10.00" height="2.40" fill="#e2363e" stroke="#3a2a20" stroke-width="0.35" />
<rect x="484.64" y="117.20" width="10.00" height="1.60" fill="#5a2418" stroke="#2a1a10" stroke-width="0.3" />
<rect x="484.64" y="118.80" width="10.00" height="10.10" fill="#f39440" stroke="#3a2a20" stroke-width="0.35" />
<line x1="489.64" y1="124.00" x2="489.64" y2="133.80" stroke="#444" stroke-width="0.45" />
<line x1="488.54" y1="133.80" x2="490.74" y2="133.80" stroke="#444" stroke-width="0.45" />
<line x1="488.54" y1="124.00" x2="490.74" y2="124.00" stroke="#444" stroke-width="0.45" />
<rect x="499.24" y="106.80" width="10.00" height="7.60" fill="#b89b72" stroke="#3a2a20" stroke-width="0.35" />
<rect x="499.24" y="114.40" width="10.00" height="6.90" fill="#f28080" stroke="#3a2a20" stroke-width="0.35" />
<rect x="499.24" y="121.30" width="10.00" height="5.00" fill="#e2363e" stroke="#3a2a20" stroke-width="0.35" />
<rect x="499.24" y="126.30" width="10.00" height="1.40" fill="#5a2418" stroke="#2a1a10" stroke-width="0.3" />
<rect x="499.24" y="127.70" width="10.00" height="5.80" fill="#f39440" stroke="#3a2a20" stroke-width="0.35" />
<line x1="504.24" y1="128.50" x2="504.24" y2="138.50" stroke="#444" stroke-width="0.45" />
<line x1="503.14" y1="138.50" x2="505.34" y2="138.50" stroke="#444" stroke-width="0.45" />
<line x1="503.14" y1="128.50" x2="505.34" y2="128.50" stroke="#444" stroke-width="0.45" />
<rect x="513.84" y="106.80" width="10.00" height="5.50" fill="#b89b72" stroke="#3a2a20" stroke-width="0.35" />
<rect x="513.84" y="112.30" width="10.00" height="6.10" fill="#f28080" stroke="#3a2a20" stroke-width="0.35" />
<rect x="513.84" y="118.40" width="10.00" height="6.50" fill="#e2363e" stroke="#3a2a20" stroke-width="0.35" />
<rect x="513.84" y="124.90" width="10.00" height="1.00" fill="#5a2418" stroke="#2a1a10" stroke-width="0.3" />
<rect x="513.84" y="125.90" width="10.00" height="4.70" fill="#f39440" stroke="#3a2a20" stroke-width="0.35" />
<line x1="518.84" y1="124.80" x2="518.84" y2="136.40" stroke="#444" stroke-width="0.45" />
<line x1="517.74" y1="136.40" x2="519.94" y2="136.40" stroke="#444" stroke-width="0.45" />
<line x1="517.74" y1="124.80" x2="519.94" y2="124.80" stroke="#444" stroke-width="0.45" />
<rect x="528.44" y="106.80" width="10.00" height="19.50" fill="#b89b72" stroke="#3a2a20" stroke-width="0.35" />
<rect x="528.44" y="126.30" width="10.00" height="18.00" fill="#f28080" stroke="#3a2a20" stroke-width="0.35" />
<rect x="528.44" y="144.30" width="10.00" height="11.50" fill="#e2363e" stroke="#3a2a20" stroke-width="0.35" />
<rect x="528.44" y="155.80" width="10.00" height="1.00" fill="#5a2418" stroke="#2a1a10" stroke-width="0.3" />
<rect x="528.44" y="156.80" width="10.00" height="11.50" fill="#f39440" stroke="#3a2a20" stroke-width="0.35" />
<line x1="533.44" y1="154.60" x2="533.44" y2="182.00" stroke="#444" stroke-width="0.45" />
<line x1="532.34" y1="182.00" x2="534.54" y2="182.00" stroke="#444" stroke-width="0.45" />
<line x1="532.34" y1="154.60" x2="534.54" y2="154.60" stroke="#444" stroke-width="0.45" />
<rect x="550.11" y="106.80" width="10.00" height="6.80" fill="#b89b72" stroke="#3a2a20" stroke-width="0.35" />
<rect x="550.11" y="113.60" width="10.00" height="4.40" fill="#f28080" stroke="#3a2a20" stroke-width="0.35" />
<rect x="550.11" y="118.00" width="10.00" height="2.50" fill="#e2363e" stroke="#3a2a20" stroke-width="0.35" />
<rect x="550.11" y="120.50" width="10.00" height="1.10" fill="#5a2418" stroke="#2a1a10" stroke-width="0.3" />
<rect x="550.11" y="121.60" width="10.00" height="7.60" fill="#f39440" stroke="#3a2a20" stroke-width="0.35" />
<line x1="555.11" y1="125.60" x2="555.11" y2="132.80" stroke="#444" stroke-width="0.45" />
<line x1="554.01" y1="132.80" x2="556.21" y2="132.80" stroke="#444" stroke-width="0.45" />
<line x1="554.01" y1="125.60" x2="556.21" y2="125.60" stroke="#444" stroke-width="0.45" />
<rect x="564.71" y="106.80" width="10.00" height="6.60" fill="#b89b72" stroke="#3a2a20" stroke-width="0.35" />
<rect x="564.71" y="113.40" width="10.00" height="4.60" fill="#f28080" stroke="#3a2a20" stroke-width="0.35" />
<rect x="564.71" y="118.00" width="10.00" height="4.00" fill="#e2363e" stroke="#3a2a20" stroke-width="0.35" />
<rect x="564.71" y="122.00" width="10.00" height="1.30" fill="#5a2418" stroke="#2a1a10" stroke-width="0.3" />
<rect x="564.71" y="123.30" width="10.00" height="2.30" fill="#f39440" stroke="#3a2a20" stroke-width="0.35" />
<line x1="569.71" y1="122.50" x2="569.71" y2="128.70" stroke="#444" stroke-width="0.45" />
<line x1="568.61" y1="128.70" x2="570.81" y2="128.70" stroke="#444" stroke-width="0.45" />
<line x1="568.61" y1="122.50" x2="570.81" y2="122.50" stroke="#444" stroke-width="0.45" />
<rect x="579.31" y="106.80" width="10.00" height="5.10" fill="#b89b72" stroke="#3a2a20" stroke-width="0.35" />
<rect x="579.31" y="111.90" width="10.00" height="3.60" fill="#f28080" stroke="#3a2a20" stroke-width="0.35" />
<rect x="579.31" y="115.50" width="10.00" height="1.50" fill="#e2363e" stroke="#3a2a20" stroke-width="0.35" />
<rect x="579.31" y="117.00" width="10.00" height="0.70" fill="#5a2418" stroke="#2a1a10" stroke-width="0.3" />
<rect x="579.31" y="117.70" width="10.00" height="2.40" fill="#f39440" stroke="#3a2a20" stroke-width="0.35" />
<line x1="584.31" y1="117.80" x2="584.31" y2="122.40" stroke="#444" stroke-width="0.45" />
<line x1="583.21" y1="122.40" x2="585.41" y2="122.40" stroke="#444" stroke-width="0.45" />
<line x1="583.21" y1="117.80" x2="585.41" y2="117.80" stroke="#444" stroke-width="0.45" />
<rect x="593.91" y="106.80" width="10.00" height="9.40" fill="#b89b72" stroke="#3a2a20" stroke-width="0.35" />
<rect x="593.91" y="116.20" width="10.00" height="16.00" fill="#f28080" stroke="#3a2a20" stroke-width="0.35" />
<rect x="593.91" y="132.20" width="10.00" height="15.90" fill="#e2363e" stroke="#3a2a20" stroke-width="0.35" />
<rect x="593.91" y="148.10" width="10.00" height="1.20" fill="#5a2418" stroke="#2a1a10" stroke-width="0.3" />
<rect x="593.91" y="149.30" width="10.00" height="0.70" fill="#ec6a45" stroke="#3a2a20" stroke-width="0.35" />
<rect x="593.91" y="150.00" width="10.00" height="0.70" fill="#5a2418" stroke="#2a1a10" stroke-width="0.3" />
<rect x="593.91" y="150.70" width="10.00" height="9.00" fill="#f39440" stroke="#3a2a20" stroke-width="0.35" />
<line x1="598.91" y1="155.10" x2="598.91" y2="164.30" stroke="#444" stroke-width="0.45" />
<line x1="597.81" y1="164.30" x2="600.01" y2="164.30" stroke="#444" stroke-width="0.45" />
<line x1="597.81" y1="155.10" x2="600.01" y2="155.10" stroke="#444" stroke-width="0.45" />
<line x1="345.80" y1="106.60" x2="609.50" y2="106.60" stroke="#808080" stroke-width="0.9" />
<line x1="347.70" y1="106.60" x2="347.70" y2="263.40" stroke="#333" stroke-width="0.6" />
<line x1="609.50" y1="106.60" x2="609.50" y2="263.40" stroke="#808080" stroke-width="0.9" />
<line x1="347.70" y1="194.00" x2="609.50" y2="194.00" stroke="#808080" stroke-width="1.0" />
<line x1="347.70" y1="228.40" x2="609.50" y2="228.40" stroke="#666" stroke-width="0.7" />
<line x1="347.70" y1="263.40" x2="609.50" y2="263.40" stroke="#555" stroke-width="0.8" />
<line x1="345.70" y1="106.80" x2="347.70" y2="106.80" stroke="#333" stroke-width="0.5" />
<text x="343.00" y="108.65" font-size="5.3" fill="#222" text-anchor="end" font-weight="normal" font-style="normal" stroke="#222" stroke-width="0.15">0</text>
<line x1="345.70" y1="122.55" x2="347.70" y2="122.55" stroke="#333" stroke-width="0.5" />
<text x="343.00" y="124.40" font-size="5.3" fill="#222" text-anchor="end" font-weight="normal" font-style="normal" stroke="#222" stroke-width="0.15">800</text>
<line x1="345.70" y1="138.30" x2="347.70" y2="138.30" stroke="#333" stroke-width="0.5" />
<text x="343.00" y="140.15" font-size="5.3" fill="#222" text-anchor="end" font-weight="normal" font-style="normal" stroke="#222" stroke-width="0.15">1600</text>
<line x1="345.70" y1="154.05" x2="347.70" y2="154.05" stroke="#333" stroke-width="0.5" />
<text x="343.00" y="155.90" font-size="5.3" fill="#222" text-anchor="end" font-weight="normal" font-style="normal" stroke="#222" stroke-width="0.15">2400</text>
<line x1="345.70" y1="169.80" x2="347.70" y2="169.80" stroke="#333" stroke-width="0.5" />
<text x="343.00" y="171.65" font-size="5.3" fill="#222" text-anchor="end" font-weight="normal" font-style="normal" stroke="#222" stroke-width="0.15">3200</text>
<line x1="345.70" y1="185.55" x2="347.70" y2="185.55" stroke="#333" stroke-width="0.5" />
<text x="343.00" y="187.40" font-size="5.3" fill="#222" text-anchor="end" font-weight="normal" font-style="normal" stroke="#222" stroke-width="0.15">4000</text>
<line x1="346.50" y1="114.67" x2="347.70" y2="114.67" stroke="#333" stroke-width="0.5" />
<line x1="346.50" y1="130.43" x2="347.70" y2="130.43" stroke="#333" stroke-width="0.5" />
<line x1="346.50" y1="146.18" x2="347.70" y2="146.18" stroke="#333" stroke-width="0.5" />
<line x1="346.50" y1="161.93" x2="347.70" y2="161.93" stroke="#333" stroke-width="0.5" />
<line x1="346.50" y1="177.68" x2="347.70" y2="177.68" stroke="#333" stroke-width="0.5" />
<line x1="345.70" y1="200.00" x2="347.70" y2="200.00" stroke="#333" stroke-width="0.5" />
<text x="343.00" y="201.85" font-size="5.3" fill="#222" text-anchor="end" font-weight="normal" font-style="normal" stroke="#222" stroke-width="0.15">1.0</text>
<line x1="345.70" y1="211.45" x2="347.70" y2="211.45" stroke="#333" stroke-width="0.5" />
<text x="343.00" y="213.30" font-size="5.3" fill="#222" text-anchor="end" font-weight="normal" font-style="normal" stroke="#222" stroke-width="0.15">0.5</text>
<line x1="345.70" y1="222.90" x2="347.70" y2="222.90" stroke="#333" stroke-width="0.5" />
<text x="343.00" y="224.75" font-size="5.3" fill="#222" text-anchor="end" font-weight="normal" font-style="normal" stroke="#222" stroke-width="0.15">0</text>
<line x1="346.50" y1="217.18" x2="347.70" y2="217.18" stroke="#333" stroke-width="0.5" />
<line x1="346.50" y1="205.73" x2="347.70" y2="205.73" stroke="#333" stroke-width="0.5" />
<line x1="467.97" y1="201.30" x2="467.97" y2="212.60" stroke="#f09060" stroke-width="0.45" />
<line x1="467.17" y1="201.30" x2="468.77" y2="201.30" stroke="#f09060" stroke-width="0.45" />
<line x1="467.17" y1="212.60" x2="468.77" y2="212.60" stroke="#f09060" stroke-width="0.45" />
<circle cx="358.70" cy="220.60" r="1.3" fill="#f5621d"/>
<circle cx="373.30" cy="217.50" r="1.3" fill="#f5621d"/>
<circle cx="387.90" cy="221.10" r="1.3" fill="#f5621d"/>
<circle cx="402.50" cy="221.80" r="1.3" fill="#f5621d"/>
<circle cx="424.17" cy="222.40" r="1.3" fill="#f5621d"/>
<circle cx="438.77" cy="216.70" r="1.3" fill="#f5621d"/>
<circle cx="453.37" cy="221.30" r="1.3" fill="#f5621d"/>
<circle cx="467.97" cy="207.00" r="1.3" fill="#f5621d"/>
<circle cx="489.64" cy="221.60" r="1.3" fill="#f5621d"/>
<circle cx="504.24" cy="221.30" r="1.3" fill="#f5621d"/>
<circle cx="518.84" cy="221.80" r="1.3" fill="#f5621d"/>
<circle cx="533.44" cy="221.30" r="1.3" fill="#f5621d"/>
<circle cx="555.11" cy="220.30" r="1.3" fill="#f5621d"/>
<circle cx="569.71" cy="220.00" r="1.3" fill="#f5621d"/>
<circle cx="584.31" cy="218.20" r="1.3" fill="#f5621d"/>
<circle cx="598.91" cy="222.10" r="1.3" fill="#f5621d"/>
<rect x="347.70" y="256.60" width="261.80" height="4.10" fill="#fbc8cc" />
<line x1="345.70" y1="231.60" x2="347.70" y2="231.60" stroke="#333" stroke-width="0.5" />
<text x="343.00" y="233.45" font-size="5.3" fill="#222" text-anchor="end" font-weight="normal" font-style="normal" stroke="#222" stroke-width="0.15">25</text>
<line x1="345.70" y1="239.00" x2="347.70" y2="239.00" stroke="#333" stroke-width="0.5" />
<text x="343.00" y="240.85" font-size="5.3" fill="#222" text-anchor="end" font-weight="normal" font-style="normal" stroke="#222" stroke-width="0.15">20</text>
<line x1="345.70" y1="245.80" x2="347.70" y2="245.80" stroke="#333" stroke-width="0.5" />
<text x="343.00" y="247.65" font-size="5.3" fill="#222" text-anchor="end" font-weight="normal" font-style="normal" stroke="#222" stroke-width="0.15">8</text>
<line x1="345.70" y1="252.90" x2="347.70" y2="252.90" stroke="#333" stroke-width="0.5" />
<text x="343.00" y="254.75" font-size="5.3" fill="#222" text-anchor="end" font-weight="normal" font-style="normal" stroke="#222" stroke-width="0.15">4</text>
<line x1="345.70" y1="260.00" x2="347.70" y2="260.00" stroke="#333" stroke-width="0.5" />
<text x="343.00" y="261.85" font-size="5.3" fill="#222" text-anchor="end" font-weight="normal" font-style="normal" stroke="#222" stroke-width="0.15">0</text>
<line x1="346.50" y1="235.30" x2="347.70" y2="235.30" stroke="#333" stroke-width="0.5" />
<line x1="346.50" y1="249.40" x2="347.70" y2="249.40" stroke="#333" stroke-width="0.5" />
<line x1="346.50" y1="256.50" x2="347.70" y2="256.50" stroke="#333" stroke-width="0.5" />
<line x1="609.50" y1="194.00" x2="609.50" y2="263.40" stroke="#444" stroke-width="0.8" />
<rect x="346.70" y="240.20" width="2.00" height="1.00" fill="#fff" />
<line x1="346.50" y1="241.80" x2="348.90" y2="240.00" stroke="#222" stroke-width="0.7" />
<rect x="608.50" y="240.20" width="2.00" height="1.00" fill="#fff" />
<line x1="608.30" y1="241.80" x2="610.70" y2="240.00" stroke="#222" stroke-width="0.7" />
<polygon points="373.30,254.35 373.82,255.59 375.15,255.70 374.13,256.57 374.45,257.88 373.30,257.18 372.15,257.88 372.47,256.57 371.45,255.70 372.78,255.59" fill="#7b2cf5"/>
<polygon points="387.90,256.65 388.42,257.89 389.75,258.00 388.73,258.87 389.05,260.18 387.90,259.48 386.75,260.18 387.07,258.87 386.05,258.00 387.38,257.89" fill="#7b2cf5"/>
<polygon points="402.50,257.15 403.02,258.39 404.35,258.50 403.33,259.37 403.65,260.68 402.50,259.98 401.35,260.68 401.67,259.37 400.65,258.50 401.98,258.39" fill="#7b2cf5"/>
<polygon points="438.77,243.25 439.29,244.49 440.62,244.60 439.60,245.47 439.92,246.78 438.77,246.08 437.62,246.78 437.94,245.47 436.92,244.60 438.25,244.49" fill="#7b2cf5"/>
<polygon points="453.37,254.35 453.89,255.59 455.22,255.70 454.20,256.57 454.52,257.88 453.37,257.18 452.22,257.88 452.54,256.57 451.52,255.70 452.85,255.59" fill="#7b2cf5"/>
<polygon points="467.97,232.75 468.49,233.99 469.82,234.10 468.80,234.97 469.12,236.28 467.97,235.58 466.82,236.28 467.14,234.97 466.12,234.10 467.45,233.99" fill="#7b2cf5"/>
<polygon points="504.24,256.05 504.76,257.29 506.09,257.40 505.07,258.27 505.39,259.58 504.24,258.88 503.09,259.58 503.41,258.27 502.39,257.40 503.72,257.29" fill="#7b2cf5"/>
<polygon points="518.84,256.55 519.36,257.79 520.69,257.90 519.67,258.77 519.99,260.08 518.84,259.38 517.69,260.08 518.01,258.77 516.99,257.90 518.32,257.79" fill="#7b2cf5"/>
<polygon points="533.44,256.05 533.96,257.29 535.29,257.40 534.27,258.27 534.59,259.58 533.44,258.88 532.29,259.58 532.61,258.27 531.59,257.40 532.92,257.29" fill="#7b2cf5"/>
<polygon points="569.71,256.35 570.23,257.59 571.56,257.70 570.54,258.57 570.86,259.88 569.71,259.18 568.56,259.88 568.88,258.57 567.86,257.70 569.19,257.59" fill="#7b2cf5"/>
<polygon points="584.31,255.05 584.83,256.29 586.16,256.40 585.14,257.27 585.46,258.58 584.31,257.88 583.16,258.58 583.48,257.27 582.46,256.40 583.79,256.29" fill="#7b2cf5"/>
<polygon points="598.91,257.35 599.43,258.59 600.76,258.70 599.74,259.57 600.06,260.88 598.91,260.18 597.76,260.88 598.08,259.57 597.06,258.70 598.39,258.59" fill="#7b2cf5"/>
<line x1="413.40" y1="4.60" x2="413.40" y2="263.40" stroke="#111" stroke-width="0.75" stroke-dasharray="0.8 1.6"/>
<line x1="478.80" y1="4.60" x2="478.80" y2="263.40" stroke="#111" stroke-width="0.75" stroke-dasharray="0.8 1.6"/>
<line x1="544.50" y1="4.60" x2="544.50" y2="263.40" stroke="#111" stroke-width="0.75" stroke-dasharray="0.8 1.6"/>
<text x="361.20" y="267.80" font-size="7.0" fill="#111" text-anchor="end" font-weight="normal" font-style="normal" transform="rotate(-90 361.20 267.80)" stroke="#111" stroke-width="0.15">15 days</text>
<text x="375.80" y="267.80" font-size="7.0" fill="#111" text-anchor="end" font-weight="normal" font-style="normal" transform="rotate(-90 375.80 267.80)" stroke="#111" stroke-width="0.15">30 days</text>
<text x="390.40" y="267.80" font-size="7.0" fill="#111" text-anchor="end" font-weight="normal" font-style="normal" transform="rotate(-90 390.40 267.80)" stroke="#111" stroke-width="0.15">55 days</text>
<text x="405.00" y="267.80" font-size="7.0" fill="#111" text-anchor="end" font-weight="normal" font-style="normal" transform="rotate(-90 405.00 267.80)" stroke="#111" stroke-width="0.15">70 days</text>
<text x="426.67" y="267.80" font-size="7.0" fill="#111" text-anchor="end" font-weight="normal" font-style="normal" transform="rotate(-90 426.67 267.80)" stroke="#111" stroke-width="0.15">15 days</text>
<text x="441.27" y="267.80" font-size="7.0" fill="#111" text-anchor="end" font-weight="normal" font-style="normal" transform="rotate(-90 441.27 267.80)" stroke="#111" stroke-width="0.15">30 days</text>
<text x="455.87" y="267.80" font-size="7.0" fill="#111" text-anchor="end" font-weight="normal" font-style="normal" transform="rotate(-90 455.87 267.80)" stroke="#111" stroke-width="0.15">55 days</text>
<text x="470.47" y="267.80" font-size="7.0" fill="#111" text-anchor="end" font-weight="normal" font-style="normal" transform="rotate(-90 470.47 267.80)" stroke="#111" stroke-width="0.15">70 days</text>
<text x="492.14" y="267.80" font-size="7.0" fill="#111" text-anchor="end" font-weight="normal" font-style="normal" transform="rotate(-90 492.14 267.80)" stroke="#111" stroke-width="0.15">15 days</text>
<text x="506.74" y="267.80" font-size="7.0" fill="#111" text-anchor="end" font-weight="normal" font-style="normal" transform="rotate(-90 506.74 267.80)" stroke="#111" stroke-width="0.15">30 days</text>
<text x="521.34" y="267.80" font-size="7.0" fill="#111" text-anchor="end" font-weight="normal" font-style="normal" transform="rotate(-90 521.34 267.80)" stroke="#111" stroke-width="0.15">55 days</text>
<text x="535.94" y="267.80" font-size="7.0" fill="#111" text-anchor="end" font-weight="normal" font-style="normal" transform="rotate(-90 535.94 267.80)" stroke="#111" stroke-width="0.15">70 days</text>
<text x="557.61" y="267.80" font-size="7.0" fill="#111" text-anchor="end" font-weight="normal" font-style="normal" transform="rotate(-90 557.61 267.80)" stroke="#111" stroke-width="0.15">15 days</text>
<text x="572.21" y="267.80" font-size="7.0" fill="#111" text-anchor="end" font-weight="normal" font-style="normal" transform="rotate(-90 572.21 267.80)" stroke="#111" stroke-width="0.15">30 days</text>
<text x="586.81" y="267.80" font-size="7.0" fill="#111" text-anchor="end" font-weight="normal" font-style="normal" transform="rotate(-90 586.81 267.80)" stroke="#111" stroke-width="0.15">55 days</text>
<text x="601.41" y="267.80" font-size="7.0" fill="#111" text-anchor="end" font-weight="normal" font-style="normal" transform="rotate(-90 601.41 267.80)" stroke="#111" stroke-width="0.15">70 days</text>
<text x="323.60" y="51.45" font-size="6.6" fill="#111" text-anchor="middle" font-weight="normal" font-style="normal" transform="rotate(-90 323.60 51.45)" stroke="#111" stroke-width="0.12"><tspan font-style="italic">mcrA</tspan> transcriptomic abund</text>
<text x="323.60" y="146.85" font-size="6.6" fill="#111" text-anchor="middle" font-weight="normal" font-style="normal" transform="rotate(-90 323.60 146.85)" stroke="#111" stroke-width="0.12"><tspan font-style="italic">pmoB</tspan> transcriptomic abund</text>
<text x="323.60" y="211.70" font-size="6.6" fill="#111" text-anchor="middle" font-weight="normal" font-style="normal" transform="rotate(-90 323.60 211.70)" stroke="#111" stroke-width="0.12"><tspan font-style="italic">mcrA/pmoB</tspan></text>
<text x="323.60" y="248.10" font-size="6.57" fill="#111" text-anchor="middle" font-weight="normal" font-style="normal" transform="rotate(-90 323.60 248.10)" stroke="#111" stroke-width="0.12">Ratio fold</text>
<rect x="617.10" y="4.40" width="9.60" height="4.10" fill="#3d9e40" stroke="#2a3a30" stroke-width="0.35" />
<text x="630.20" y="8.30" font-size="5.3" fill="#111" text-anchor="start" font-weight="normal" font-style="italic" stroke="#111" stroke-width="0.1">Methanosarcina</text>
<rect x="617.10" y="11.30" width="9.60" height="4.10" fill="#70c25c" stroke="#2a3a30" stroke-width="0.35" />
<text x="630.20" y="15.20" font-size="5.3" fill="#111" text-anchor="start" font-weight="normal" font-style="italic" stroke="#111" stroke-width="0.1">Methanomassiliicoccus</text>
<rect x="617.10" y="18.20" width="9.60" height="4.10" fill="#a6d89a" stroke="#2a3a30" stroke-width="0.35" />
<text x="630.20" y="22.10" font-size="5.3" fill="#111" text-anchor="start" font-weight="normal" font-style="italic" stroke="#111" stroke-width="0.1">Methanobacterium</text>
<rect x="617.10" y="25.10" width="9.60" height="4.10" fill="#3f8db5" stroke="#2a3a30" stroke-width="0.35" />
<text x="630.20" y="29.00" font-size="5.3" fill="#111" text-anchor="start" font-weight="normal" font-style="italic" stroke="#111" stroke-width="0.1">Methanoregula</text>
<rect x="617.10" y="32.00" width="9.60" height="4.10" fill="#5b9fd4" stroke="#2a3a30" stroke-width="0.35" />
<text x="630.20" y="35.90" font-size="5.3" fill="#111" text-anchor="start" font-weight="normal" font-style="italic" stroke="#111" stroke-width="0.1">Methanocella</text>
<rect x="617.20" y="106.80" width="9.20" height="4.50" fill="#ef9047" stroke="#3a2a20" stroke-width="0.35" />
<text x="630.10" y="110.80" font-size="5.4" fill="#111" text-anchor="start" font-weight="normal" font-style="normal" stroke="#111" stroke-width="0.1">Unclassified genus</text>
<rect x="617.20" y="113.82" width="9.20" height="4.50" fill="#f78d1e" stroke="#3a2a20" stroke-width="0.35" />
<text x="630.10" y="117.82" font-size="5.4" fill="#111" text-anchor="start" font-weight="normal" font-style="italic" stroke="#111" stroke-width="0.1">Methylomonas</text>
<rect x="617.20" y="120.84" width="9.20" height="4.50" fill="#fbb463" stroke="#3a2a20" stroke-width="0.35" />
<text x="630.10" y="124.84" font-size="5.4" fill="#111" text-anchor="start" font-weight="normal" font-style="italic" stroke="#111" stroke-width="0.1">Methylosinus</text>
<rect x="617.20" y="127.86" width="9.20" height="4.50" fill="#ec6a45" stroke="#3a2a20" stroke-width="0.35" />
<text x="630.10" y="131.86" font-size="5.4" fill="#111" text-anchor="start" font-weight="normal" font-style="italic" stroke="#111" stroke-width="0.1">Methylocaldum</text>
<rect x="617.20" y="134.88" width="9.20" height="4.50" fill="#e2363e" stroke="#3a2a20" stroke-width="0.35" />
<text x="630.10" y="138.88" font-size="5.4" fill="#111" text-anchor="start" font-weight="normal" font-style="italic" stroke="#111" stroke-width="0.1">Methylomicrobium</text>
<rect x="617.20" y="141.90" width="9.20" height="4.50" fill="#f28080" stroke="#3a2a20" stroke-width="0.35" />
<text x="630.10" y="145.90" font-size="5.4" fill="#111" text-anchor="start" font-weight="normal" font-style="italic" stroke="#111" stroke-width="0.1">Methylobacter</text>
<rect x="617.20" y="148.92" width="9.20" height="4.50" fill="#b89b72" stroke="#3a2a20" stroke-width="0.35" />
<text x="630.10" y="152.92" font-size="5.4" fill="#111" text-anchor="start" font-weight="normal" font-style="italic" stroke="#111" stroke-width="0.1">Methylocystis</text></svg>
</body></html>
